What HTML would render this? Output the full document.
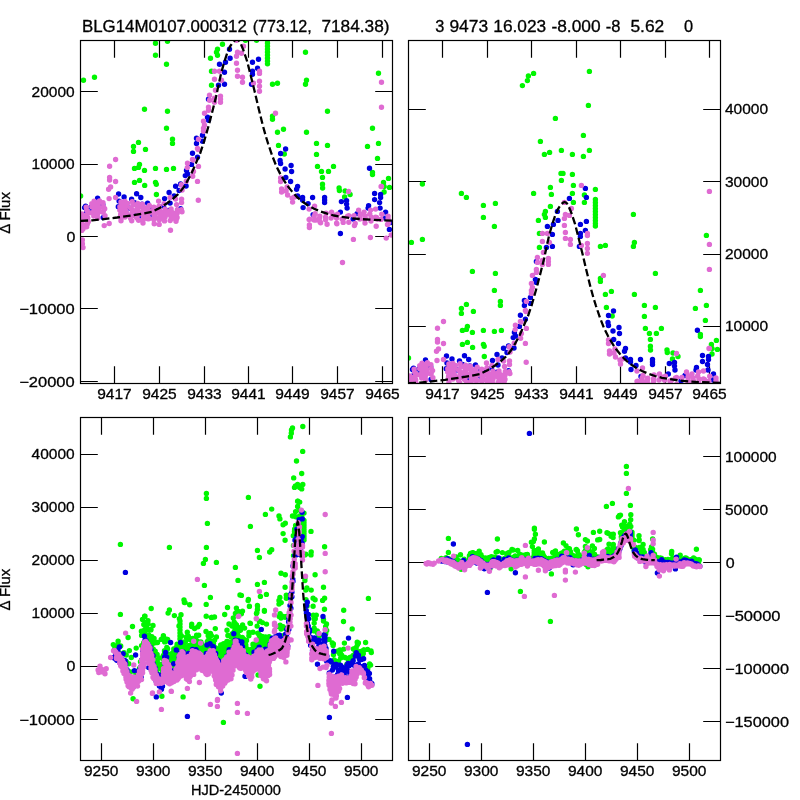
<!DOCTYPE html><html><head><meta charset="utf-8"><style>html,body{margin:0;padding:0;background:#fff}svg{display:block}</style></head><body><svg width="800" height="800" viewBox="0 0 800 800" font-family="Liberation Sans, sans-serif" fill="#000">
<rect width="800" height="800" fill="#fff"/>
<defs>
<clipPath id="c1"><rect x="80.5" y="40.5" width="312.0" height="343.0"/></clipPath>
<clipPath id="c2"><rect x="408.5" y="40.5" width="312.0" height="343.0"/></clipPath>
<clipPath id="c3"><rect x="80.5" y="417.5" width="312.0" height="343.0"/></clipPath>
<clipPath id="c4"><rect x="408.5" y="417.5" width="312.0" height="343.0"/></clipPath>
</defs>
<g stroke="#000" stroke-width="1.2" fill="none">
<path d="M114.5 40.5v17.3M114.5 383.5v-17.3"/>
<path d="M159.5 40.5v17.3M159.5 383.5v-17.3"/>
<path d="M204.5 40.5v17.3M204.5 383.5v-17.3"/>
<path d="M248.5 40.5v17.3M248.5 383.5v-17.3"/>
<path d="M292.5 40.5v17.3M292.5 383.5v-17.3"/>
<path d="M337.5 40.5v17.3M337.5 383.5v-17.3"/>
<path d="M382.5 40.5v17.3M382.5 383.5v-17.3"/>
<path d="M80.5 91.5h17.3M392.5 91.5h-17.3"/>
<path d="M80.5 164.5h17.3M392.5 164.5h-17.3"/>
<path d="M80.5 236.5h17.3M392.5 236.5h-17.3"/>
<path d="M80.5 308.5h17.3M392.5 308.5h-17.3"/>
<path d="M80.5 381.5h17.3M392.5 381.5h-17.3"/>
<path d="M442.5 40.5v17.3M442.5 383.5v-17.3"/>
<path d="M487.5 40.5v17.3M487.5 383.5v-17.3"/>
<path d="M531.5 40.5v17.3M531.5 383.5v-17.3"/>
<path d="M576.5 40.5v17.3M576.5 383.5v-17.3"/>
<path d="M620.5 40.5v17.3M620.5 383.5v-17.3"/>
<path d="M665.5 40.5v17.3M665.5 383.5v-17.3"/>
<path d="M709.5 40.5v17.3M709.5 383.5v-17.3"/>
<path d="M408.5 109.5h17.3M720.5 109.5h-17.3"/>
<path d="M408.5 181.5h17.3M720.5 181.5h-17.3"/>
<path d="M408.5 254.5h17.3M720.5 254.5h-17.3"/>
<path d="M408.5 326.5h17.3M720.5 326.5h-17.3"/>
<path d="M101.5 417.5v17.3M101.5 760.5v-17.3"/>
<path d="M153.5 417.5v17.3M153.5 760.5v-17.3"/>
<path d="M205.5 417.5v17.3M205.5 760.5v-17.3"/>
<path d="M257.5 417.5v17.3M257.5 760.5v-17.3"/>
<path d="M309.5 417.5v17.3M309.5 760.5v-17.3"/>
<path d="M361.5 417.5v17.3M361.5 760.5v-17.3"/>
<path d="M80.5 454.5h17.3M392.5 454.5h-17.3"/>
<path d="M80.5 507.5h17.3M392.5 507.5h-17.3"/>
<path d="M80.5 560.5h17.3M392.5 560.5h-17.3"/>
<path d="M80.5 613.5h17.3M392.5 613.5h-17.3"/>
<path d="M80.5 666.5h17.3M392.5 666.5h-17.3"/>
<path d="M80.5 719.5h17.3M392.5 719.5h-17.3"/>
<path d="M429.5 417.5v17.3M429.5 760.5v-17.3"/>
<path d="M481.5 417.5v17.3M481.5 760.5v-17.3"/>
<path d="M533.5 417.5v17.3M533.5 760.5v-17.3"/>
<path d="M585.5 417.5v17.3M585.5 760.5v-17.3"/>
<path d="M637.5 417.5v17.3M637.5 760.5v-17.3"/>
<path d="M689.5 417.5v17.3M689.5 760.5v-17.3"/>
<path d="M408.5 456.5h17.3M720.5 456.5h-17.3"/>
<path d="M408.5 509.5h17.3M720.5 509.5h-17.3"/>
<path d="M408.5 562.5h17.3M720.5 562.5h-17.3"/>
<path d="M408.5 615.5h17.3M720.5 615.5h-17.3"/>
<path d="M408.5 668.5h17.3M720.5 668.5h-17.3"/>
<path d="M408.5 721.5h17.3M720.5 721.5h-17.3"/>
</g>
<g clip-path="url(#c1)">
<path stroke="#00f600" stroke-width="5.4" stroke-linecap="round" fill="none" d="M155.5 43.2h0M167.5 41.2h0M155.5 55.2h0M166.5 64.2h0M83.5 80.2h0M94.5 77.2h0M222.5 44.2h0M217.5 49.2h0M216.5 52.2h0M217.5 55.2h0M210.5 58.2h0M211.5 71.2h0M211.5 85.2h0M144.5 109.3h0M167.5 111.3h0M166.5 128.3h0M172.5 139.3h0M172.5 143.4h0M138.5 142.4h0M133.5 146.4h0M133.5 151.4h0M145.5 149.4h0M139.5 164.4h0M134.5 168.4h0M138.5 167.4h0M144.5 170.4h0M155.5 168.4h0M166.5 169.4h0M173.5 168.4h0M134.5 182.4h0M139.5 180.4h0M144.7 185.4h0M155.5 182.4h0M156.3 184.2h0M156.4 194.5h0M80.6 196.0h0M245.5 40.2h0M256.5 40.2h0M267.5 37.3h0M267.5 40.3h0M267.5 43.3h0M267.5 46.3h0M267.5 49.3h0M267.5 52.3h0M267.5 55.3h0M267.5 58.3h0M267.5 61.3h0M267.5 63.8h0M305.5 52.2h0M272.5 84.2h0M277.5 83.2h0M306.5 80.2h0M305.5 84.2h0M327.5 111.3h0M272.5 116.3h0M272.5 119.3h0M277.5 132.3h0M283.5 129.3h0M306.5 132.3h0M278.5 145.4h0M284.3 154.0h0M316.5 143.4h0M327.5 145.4h0M316.5 154.4h0M317.5 166.4h0M333.5 166.4h0M321.5 171.4h0M328.5 171.4h0M322.5 177.4h0M322.5 184.3h0M322.6 188.0h0M339.1 188.0h0M339.4 190.5h0M345.1 191.0h0M350.1 194.5h0M344.6 197.0h0M372.5 128.3h0M367.5 146.4h0M378.5 73.2h0M378.5 143.4h0M377.5 158.4h0M372.5 172.4h0M372.5 174.6h0M388.5 178.4h0M383.5 182.4h0M389.5 187.4h0M384.1 186.5h0M384.1 192.0h0M78.2 207.2h0M77.6 215.1h0M76.8 214.8h0"/>
<path stroke="#0000de" stroke-width="5.4" stroke-linecap="round" fill="none" d="M229.5 49.2h0M230.1 58.2h0M225.5 62.2h0M219.5 64.2h0M224.5 72.2h0M224.5 84.2h0M218.5 85.2h0M208.5 99.3h0M207.5 117.3h0M208.5 120.3h0M202.5 135.3h0M196.5 138.3h0M202.5 141.3h0M196.5 143.4h0M192.5 153.2h0M197.5 157.2h0M191.5 164.4h0M186.5 170.4h0M185.3 175.6h0M187.6 174.0h0M180.6 184.0h0M175.6 186.2h0M186.1 186.0h0M169.1 192.5h0M164.6 198.6h0M174.1 196.0h0M179.1 190.5h0M170.1 203.1h0M258.5 59.2h0M252.5 62.2h0M257.5 68.2h0M252.5 71.2h0M252.5 74.2h0M251.5 84.2h0M285.6 149.0h0M280.6 153.5h0M280.1 160.5h0M280.6 163.5h0M291.1 165.5h0M285.1 169.0h0M291.6 171.5h0M285.8 177.5h0M290.6 181.5h0M297.6 186.5h0M296.6 189.2h0M302.6 197.5h0M302.6 200.1h0M297.6 196.0h0M312.6 197.5h0M308.1 203.6h0M303.1 207.6h0M324.6 197.5h0M324.6 200.1h0M324.6 202.6h0M341.4 201.6h0M340.4 212.1h0M313.1 214.6h0M369.5 168.2h0M346.6 200.6h0M346.6 204.1h0M347.1 208.1h0M374.6 193.5h0M374.6 199.6h0M380.6 194.5h0M380.6 197.5h0M379.6 202.6h0M380.1 208.1h0M368.6 205.6h0M368.1 208.1h0M385.6 212.1h0M357.1 213.6h0M385.1 218.1h0M353.1 219.1h0M97.6 198.1h0M118.6 194.0h0M124.1 197.0h0M131.6 199.1h0M136.6 193.7h0M140.8 197.5h0M147.6 203.1h0M84.6 207.6h0M86.6 210.1h0M91.1 207.1h0M134.6 202.6h0M103.1 217.6h0M156.4 212.1h0M85.1 214.1h0M91.6 212.1h0M119.1 201.1h0M125.1 204.1h0M142.1 204.1h0M152.6 209.1h0M158.1 210.1h0M163.6 206.1h0M340.4 233.5h0M390.6 222.5h0M389.4 229.4h0M85.6 206.2h0M92.3 211.1h0M96.5 215.3h0M102.8 204.6h0M118.3 206.8h0M123.6 215.2h0M129.6 208.1h0M135.4 212.9h0M141.7 216.5h0M147.5 216.3h0M152.5 214.4h0M157.4 210.4h0M163.5 212.6h0M169.0 210.4h0M173.9 215.1h0M180.6 208.8h0M78.1 223.6h0M76.8 224.4h0"/>
<path stroke="#df6bd2" stroke-width="5.4" stroke-linecap="round" fill="none" d="M381.5 82.2h0M381.5 107.3h0M381.5 186.4h0M115.6 159.5h0M109.6 166.2h0M109.6 177.5h0M109.6 180.0h0M115.6 181.5h0M110.6 187.0h0M108.6 189.2h0M109.1 198.6h0M115.6 197.5h0M214.5 71.2h0M219.5 71.2h0M214.5 79.2h0M221.5 80.2h0M215.5 90.3h0M209.5 95.3h0M220.5 96.3h0M220.5 99.3h0M220.5 102.3h0M209.5 100.3h0M214.5 98.3h0M214.5 102.3h0M208.5 107.3h0M208.5 110.3h0M204.5 113.3h0M203.5 121.3h0M204.5 125.3h0M203.5 128.3h0M203.5 131.3h0M198.5 139.3h0M197.5 148.4h0M192.5 159.4h0M187.5 163.2h0M187.3 167.6h0M198.5 166.4h0M193.5 171.4h0M192.7 176.2h0M197.5 181.4h0M186.3 181.2h0M181.3 184.8h0M198.1 149.5h0M193.1 160.0h0M182.1 190.0h0M170.1 197.5h0M158.6 201.1h0M175.6 199.1h0M181.6 199.1h0M181.6 202.6h0M176.6 204.6h0M198.3 200.3h0M164.1 203.6h0M159.1 206.1h0M236.5 40.2h0M243.5 46.2h0M237.5 52.2h0M241.5 53.2h0M236.5 56.2h0M236.5 63.2h0M237.5 70.2h0M237.5 76.2h0M242.5 77.2h0M242.5 82.2h0M259.5 71.2h0M259.5 73.4h0M259.5 81.2h0M253.5 83.2h0M259.5 86.2h0M259.5 91.3h0M275.5 113.3h0M280.6 178.0h0M280.6 181.5h0M281.6 189.0h0M281.6 192.0h0M287.1 187.0h0M286.1 191.0h0M287.6 195.0h0M292.1 198.1h0M292.6 202.1h0M294.6 197.0h0M314.6 206.1h0M309.1 209.1h0M315.1 213.6h0M326.1 213.1h0M331.6 212.1h0M309.1 219.6h0M319.6 218.1h0M325.6 217.1h0M331.1 218.1h0M336.6 218.1h0M314.1 220.1h0M348.6 191.5h0M381.1 186.5h0M358.6 210.1h0M364.1 212.1h0M370.6 210.1h0M375.6 209.1h0M360.1 215.1h0M365.1 216.1h0M371.1 217.1h0M375.6 217.1h0M388.1 216.1h0M388.1 218.5h0M347.6 216.1h0M342.1 219.1h0M82.4 240.0h0M82.4 243.7h0M83.0 247.5h0M104.2 225.6h0M109.2 223.5h0M121.0 220.8h0M131.7 220.8h0M138.6 220.3h0M143.0 223.0h0M154.2 223.7h0M159.2 224.4h0M170.5 230.3h0M176.0 221.3h0M309.4 227.5h0M354.4 225.6h0M365.0 223.1h0M376.2 226.2h0M353.4 239.4h0M370.4 237.5h0M386.2 238.1h0M342.5 262.5h0M391.2 235.0h0M336.9 223.8h0M320.6 222.7h0M81.7 230.4h0M82.9 229.0h0M81.8 227.2h0M81.0 225.7h0M82.1 223.7h0M80.7 222.9h0M80.7 220.6h0M82.3 220.2h0M83.1 217.2h0M82.2 216.2h0M80.9 215.6h0M81.9 213.9h0M86.7 226.8h0M87.3 224.0h0M88.3 221.8h0M87.7 219.8h0M87.8 217.9h0M86.8 214.8h0M88.6 213.1h0M87.9 212.1h0M86.7 210.1h0M86.2 207.1h0M93.8 216.1h0M94.1 213.5h0M91.6 212.8h0M94.0 210.6h0M94.2 209.0h0M91.8 206.8h0M93.6 205.7h0M91.8 203.8h0M94.1 201.3h0M97.8 218.0h0M97.3 214.8h0M97.6 213.4h0M98.3 212.2h0M99.1 210.4h0M98.9 208.6h0M98.3 206.5h0M97.9 203.2h0M99.3 202.6h0M99.5 200.9h0M105.0 215.8h0M103.0 212.2h0M103.3 211.5h0M104.7 208.7h0M103.5 206.7h0M103.0 202.7h0M121.0 218.2h0M120.6 215.4h0M120.7 214.3h0M121.7 213.2h0M119.8 210.1h0M121.5 209.4h0M119.9 206.8h0M121.9 205.9h0M121.9 202.9h0M121.0 201.9h0M125.1 217.1h0M125.6 215.7h0M125.6 213.6h0M126.5 212.7h0M125.4 210.1h0M125.2 209.1h0M126.4 206.1h0M126.6 205.2h0M127.4 203.5h0M125.0 201.5h0M130.7 218.6h0M131.5 216.1h0M130.9 214.7h0M132.9 211.7h0M132.2 210.5h0M132.1 209.6h0M130.6 208.1h0M132.9 205.0h0M133.0 204.4h0M132.2 201.8h0M136.9 217.9h0M136.3 217.0h0M138.0 214.6h0M138.0 213.2h0M138.2 211.1h0M137.0 209.8h0M138.4 207.7h0M137.2 206.1h0M138.3 204.8h0M137.7 203.4h0M143.2 219.5h0M143.3 216.1h0M143.9 214.8h0M142.7 213.1h0M143.2 211.8h0M143.8 210.7h0M143.6 209.0h0M143.2 206.4h0M142.3 204.3h0M148.8 218.8h0M147.9 218.7h0M148.0 215.9h0M147.7 215.0h0M149.6 212.5h0M148.4 210.5h0M148.1 209.1h0M147.7 207.9h0M149.3 205.4h0M153.8 219.4h0M153.6 218.4h0M154.1 215.5h0M155.0 214.0h0M155.3 213.0h0M153.2 211.0h0M153.5 209.7h0M153.9 207.3h0M159.2 219.8h0M160.9 218.9h0M158.5 218.0h0M160.6 216.4h0M160.2 214.1h0M159.1 212.2h0M158.4 211.7h0M159.5 210.3h0M164.5 220.9h0M164.0 218.6h0M165.1 217.1h0M165.6 215.3h0M166.4 213.9h0M164.4 212.7h0M164.4 211.9h0M165.1 209.3h0M170.2 220.6h0M171.3 218.8h0M171.1 216.9h0M170.5 215.3h0M171.8 214.8h0M171.9 212.3h0M169.8 211.2h0M171.1 209.0h0M176.5 219.0h0M177.1 217.4h0M176.2 216.3h0M175.6 214.6h0M177.1 213.2h0M176.9 212.3h0M177.4 209.6h0M182.0 211.7h0M181.4 209.7h0M309.4 225.0h0M309.6 219.2h0M316.0 220.0h0M314.2 216.1h0M319.8 216.2h0M320.1 221.9h0M327.1 224.3h0M325.6 219.7h0M332.5 215.7h0M332.5 214.4h0M337.5 214.3h0M336.6 223.3h0M343.2 222.4h0M343.7 218.2h0M348.7 215.6h0M348.8 222.2h0M354.0 215.6h0M355.2 223.5h0M360.6 214.1h0M359.9 219.0h0M364.6 219.4h0M365.4 218.6h0M369.8 214.1h0M371.0 221.1h0M377.2 219.1h0M376.5 217.5h0M381.0 219.4h0M381.8 214.2h0M388.6 222.7h0M387.5 224.5h0M76.9 220.3h0M77.5 222.8h0M76.9 229.1h0M77.0 234.4h0M77.3 237.3h0M77.1 240.2h0M76.7 245.4h0"/>
<polyline points="80.6,220.9 92.1,220.3 102.1,219.3 117.1,217.5 132.1,215.3 142.1,213.7 152.1,211.7 160.1,207.7 167.1,203.2 173.1,198.7 178.1,194.1 181.1,190.6 184.1,186.6 188.1,179.6 192.1,172.1 195.1,165.1 198.1,158.1 200.1,153.6 204.1,141.5 208.1,127.5 212.1,112.5 216.1,96.5 219.1,82.4 221.1,73.4 224.1,62.4 227.1,53.4 230.1,46.4 233.1,41.9 235.1,40.2 236.7,39.4 238.6,40.3 240.2,42.4 243.3,49.9 247.1,61.2 250.9,76.2 254.6,91.2 258.4,107.5 262.7,125.0 265.6,135.5 268.1,143.6 272.1,155.4 276.1,165.6 280.1,173.6 284.1,180.6 288.1,186.6 292.1,191.6 297.1,197.1 302.1,201.5 308.1,205.5 314.1,208.7 320.1,211.3 327.1,213.7 334.1,215.5 342.1,216.9 352.1,218.3 362.1,219.2 372.1,219.8 382.1,220.2 392.6,220.6" fill="none" stroke="#000" stroke-width="2.3" stroke-dasharray="7.5 3.2"/>
</g>
<g clip-path="url(#c2)">
<path stroke="#00f600" stroke-width="5.4" stroke-linecap="round" fill="none" d="M422.4 184.0h0M461.4 193.4h0M466.4 197.4h0M522.4 85.6h0M527.4 80.6h0M528.4 76.0h0M533.6 73.4h0M555.4 118.4h0M540.4 141.4h0M544.4 154.4h0M549.6 152.4h0M561.4 150.4h0M533.6 193.4h0M550.4 187.4h0M551.4 194.4h0M589.4 71.4h0M588.4 105.4h0M583.4 135.4h0M572.4 154.4h0M583.4 156.4h0M589.4 150.4h0M561.0 173.4h0M563.0 173.4h0M572.4 174.4h0M561.4 180.4h0M573.4 185.4h0M572.4 193.4h0M595.4 189.4h0M584.4 195.0h0M483.4 205.4h0M495.4 203.4h0M483.4 217.4h0M494.4 226.4h0M411.4 242.4h0M422.4 239.4h0M550.4 206.4h0M545.4 211.4h0M544.4 214.4h0M545.4 217.4h0M538.4 220.4h0M539.4 233.4h0M539.4 247.4h0M472.4 271.4h0M495.4 273.4h0M494.4 290.4h0M500.4 301.4h0M500.4 305.4h0M466.4 304.4h0M461.4 308.4h0M461.4 313.4h0M473.4 311.4h0M467.4 326.4h0M462.4 330.4h0M466.4 329.4h0M472.4 332.4h0M483.4 330.4h0M494.4 331.4h0M501.4 330.4h0M462.4 344.4h0M467.4 342.4h0M472.6 347.4h0M483.4 344.4h0M484.2 346.2h0M484.3 356.5h0M408.5 358.0h0M573.4 202.4h0M584.4 202.4h0M595.4 199.5h0M595.4 202.5h0M595.4 205.5h0M595.4 208.5h0M595.4 211.5h0M595.4 214.5h0M595.4 217.5h0M595.4 220.5h0M595.4 223.5h0M595.4 226.0h0M633.4 214.4h0M600.4 246.4h0M605.4 245.4h0M634.4 242.4h0M633.4 246.4h0M655.4 273.4h0M600.4 278.4h0M600.4 281.4h0M605.4 294.4h0M611.4 291.4h0M634.4 294.4h0M606.4 307.4h0M612.2 316.0h0M644.4 305.4h0M655.4 307.4h0M644.4 316.4h0M645.4 328.4h0M661.4 328.4h0M649.4 333.4h0M656.4 333.4h0M650.4 339.4h0M650.4 346.3h0M650.5 350.0h0M667.0 350.0h0M667.3 352.5h0M673.0 353.0h0M678.0 356.5h0M672.5 359.0h0M700.4 290.4h0M695.4 308.4h0M706.4 235.4h0M706.4 305.4h0M705.4 320.4h0M700.4 334.4h0M700.4 336.6h0M716.4 340.4h0M711.4 344.4h0M717.4 349.4h0M712.0 348.5h0M712.0 354.0h0M406.1 369.1h0M405.5 377.0h0M404.7 376.7h0"/>
<path stroke="#0000de" stroke-width="5.4" stroke-linecap="round" fill="none" d="M585.4 188.4h0M586.4 197.4h0M569.4 198.4h0M557.4 211.4h0M558.0 220.4h0M553.4 224.4h0M547.4 226.4h0M552.4 234.4h0M552.4 246.4h0M546.4 247.4h0M536.4 261.4h0M535.4 279.4h0M536.4 282.4h0M530.4 297.4h0M524.4 300.4h0M530.4 303.4h0M524.4 305.4h0M520.4 315.2h0M525.4 319.2h0M519.4 326.4h0M514.4 332.4h0M513.2 337.6h0M515.5 336.0h0M508.5 346.0h0M503.5 348.2h0M514.0 348.0h0M497.0 354.5h0M492.5 360.5h0M502.0 358.0h0M507.0 352.5h0M498.0 365.0h0M586.4 221.4h0M580.4 224.4h0M585.4 230.4h0M580.4 233.4h0M580.4 236.4h0M579.4 246.4h0M613.5 311.0h0M608.5 315.5h0M608.0 322.5h0M608.5 325.5h0M619.0 327.5h0M613.0 331.0h0M619.5 333.5h0M613.7 339.5h0M618.5 343.5h0M625.5 348.5h0M624.5 351.2h0M630.5 359.5h0M630.5 362.0h0M625.5 358.0h0M640.5 359.5h0M636.0 365.5h0M631.0 369.5h0M652.5 359.5h0M652.5 362.0h0M652.5 364.5h0M669.3 363.5h0M668.3 374.0h0M641.0 376.5h0M697.4 330.2h0M674.5 362.5h0M674.5 366.0h0M675.0 370.0h0M702.5 355.5h0M702.5 361.5h0M708.5 356.5h0M708.5 359.5h0M707.5 364.5h0M708.0 370.0h0M696.5 367.5h0M696.0 370.0h0M713.5 374.0h0M685.0 375.5h0M713.0 380.0h0M681.0 381.0h0M425.5 360.0h0M446.5 356.0h0M452.0 359.0h0M459.5 361.0h0M464.5 355.7h0M468.7 359.5h0M475.5 365.0h0M412.5 369.5h0M414.5 372.0h0M419.0 369.0h0M462.5 364.5h0M431.0 379.5h0M484.3 374.0h0M413.0 376.0h0M419.5 374.0h0M447.0 363.0h0M453.0 366.0h0M470.0 366.0h0M480.5 371.0h0M486.0 372.0h0M491.5 368.0h0M718.5 384.4h0M413.5 368.2h0M420.2 373.1h0M424.4 377.2h0M430.7 366.6h0M446.2 368.7h0M451.5 377.2h0M457.5 370.0h0M463.3 374.8h0M469.6 378.4h0M475.4 378.2h0M480.4 376.3h0M485.3 372.3h0M491.4 374.5h0M496.9 372.3h0M501.8 377.0h0M508.5 370.7h0M406.0 385.5h0M404.7 386.3h0"/>
<path stroke="#df6bd2" stroke-width="5.4" stroke-linecap="round" fill="none" d="M581.4 185.4h0M709.4 191.4h0M709.4 244.4h0M709.4 269.4h0M709.4 348.4h0M443.5 321.5h0M437.5 328.2h0M437.5 339.5h0M437.5 342.0h0M443.5 343.5h0M438.5 349.0h0M436.5 351.2h0M437.0 360.5h0M443.5 359.5h0M542.4 233.4h0M547.4 233.4h0M542.4 241.4h0M549.4 242.4h0M543.4 252.4h0M537.4 257.4h0M548.4 258.4h0M548.4 261.4h0M548.4 264.4h0M537.4 262.4h0M542.4 260.4h0M542.4 264.4h0M536.4 269.4h0M536.4 272.4h0M532.4 275.4h0M531.4 283.4h0M532.4 287.4h0M531.4 290.4h0M531.4 293.4h0M526.4 301.4h0M525.4 310.4h0M520.4 321.4h0M515.4 325.2h0M515.2 329.6h0M526.4 328.4h0M521.4 333.4h0M520.6 338.2h0M525.4 343.4h0M514.2 343.2h0M509.2 346.8h0M526.0 311.5h0M521.0 322.0h0M510.0 352.0h0M498.0 359.5h0M486.5 363.0h0M503.5 361.0h0M509.5 361.0h0M509.5 364.5h0M504.5 366.5h0M526.2 362.2h0M492.0 365.5h0M487.0 368.0h0M564.4 202.4h0M571.4 208.4h0M565.4 214.4h0M569.4 215.4h0M564.4 218.4h0M564.4 225.4h0M565.4 232.4h0M565.4 238.4h0M570.4 239.4h0M570.4 244.4h0M587.4 233.4h0M587.4 235.6h0M587.4 243.4h0M581.4 245.4h0M587.4 248.4h0M587.4 253.4h0M603.4 275.4h0M608.5 340.0h0M608.5 343.5h0M609.5 351.0h0M609.5 354.0h0M615.0 349.0h0M614.0 353.0h0M615.5 357.0h0M620.0 360.0h0M620.5 364.0h0M622.5 359.0h0M642.5 368.0h0M637.0 371.0h0M643.0 375.5h0M654.0 375.0h0M659.5 374.0h0M637.0 381.5h0M647.5 380.0h0M653.5 379.0h0M659.0 380.0h0M664.5 380.0h0M642.0 382.0h0M676.5 353.5h0M709.0 348.5h0M686.5 372.0h0M692.0 374.0h0M698.5 372.0h0M703.5 371.0h0M688.0 377.0h0M693.0 378.0h0M699.0 379.0h0M703.5 379.0h0M716.0 378.0h0M716.0 380.4h0M675.5 378.0h0M670.0 381.0h0M437.1 385.4h0M448.9 382.7h0M459.6 382.7h0M466.5 382.2h0M470.9 384.9h0M482.1 385.6h0M487.1 386.3h0M503.9 383.2h0M692.9 385.0h0M664.8 385.7h0M648.5 384.6h0M410.0 385.6h0M408.6 384.9h0M408.6 382.5h0M410.2 382.1h0M411.0 379.1h0M410.1 378.1h0M408.8 377.5h0M409.8 375.9h0M415.2 385.9h0M416.2 383.7h0M415.6 381.7h0M415.7 379.8h0M414.7 376.7h0M416.5 375.0h0M415.8 374.0h0M414.6 372.1h0M414.1 369.1h0M421.7 378.0h0M422.0 375.4h0M419.5 374.8h0M421.9 372.6h0M422.1 370.9h0M419.7 368.7h0M421.5 367.6h0M419.7 365.7h0M422.0 363.2h0M425.7 379.9h0M425.2 376.7h0M425.5 375.3h0M426.2 374.1h0M427.0 372.4h0M426.8 370.5h0M426.2 368.5h0M425.8 365.2h0M427.2 364.5h0M427.4 362.8h0M432.9 377.7h0M430.9 374.1h0M431.2 373.4h0M432.6 370.6h0M431.4 368.6h0M430.9 364.6h0M448.9 380.2h0M448.5 377.3h0M448.6 376.2h0M449.6 375.1h0M447.7 372.0h0M449.4 371.4h0M447.8 368.7h0M449.8 367.9h0M449.8 364.8h0M448.9 363.9h0M453.0 379.0h0M453.5 377.6h0M453.5 375.5h0M454.4 374.7h0M453.3 372.0h0M453.1 371.0h0M454.3 368.0h0M454.5 367.2h0M455.3 365.5h0M452.9 363.5h0M458.6 380.5h0M459.4 378.0h0M458.8 376.6h0M460.8 373.7h0M460.1 372.4h0M460.0 371.6h0M458.5 370.0h0M460.8 367.0h0M460.9 366.4h0M460.1 363.7h0M464.8 379.8h0M464.2 378.9h0M465.9 376.5h0M465.9 375.1h0M466.1 373.1h0M464.9 371.7h0M466.3 369.7h0M465.1 368.1h0M466.2 366.7h0M465.6 365.3h0M471.1 381.4h0M471.2 378.0h0M471.8 376.8h0M470.6 375.0h0M471.1 373.7h0M471.7 372.6h0M471.5 370.9h0M471.1 368.4h0M470.2 366.2h0M476.7 380.7h0M475.8 380.6h0M475.9 377.8h0M475.6 377.0h0M477.5 374.4h0M476.3 372.4h0M476.0 371.1h0M475.6 369.8h0M477.2 367.3h0M481.7 381.3h0M481.5 380.3h0M482.0 377.4h0M482.9 375.9h0M483.2 375.0h0M481.1 373.0h0M481.4 371.7h0M481.8 369.2h0M487.1 381.7h0M488.8 380.8h0M486.4 379.9h0M488.5 378.4h0M488.1 376.0h0M487.0 374.1h0M486.3 373.6h0M487.4 372.3h0M492.4 382.8h0M491.9 380.5h0M493.0 379.0h0M493.5 377.2h0M494.3 375.8h0M492.3 374.6h0M492.3 373.8h0M493.0 371.2h0M498.1 382.5h0M499.2 380.7h0M499.0 378.8h0M498.4 377.2h0M499.7 376.8h0M499.8 374.3h0M497.7 373.1h0M499.0 370.9h0M504.4 380.9h0M505.0 379.3h0M504.1 378.2h0M503.5 376.5h0M505.0 375.1h0M504.8 374.2h0M505.3 371.5h0M509.9 373.6h0M509.3 371.7h0M637.3 386.9h0M637.5 381.2h0M643.9 381.9h0M642.1 378.0h0M647.7 378.1h0M648.0 383.8h0M655.0 386.2h0M653.5 381.6h0M660.4 377.6h0M660.4 376.3h0M665.4 376.2h0M664.5 385.2h0M671.1 384.4h0M671.6 380.1h0M676.6 377.5h0M676.7 384.1h0M681.9 377.5h0M683.1 385.4h0M688.5 376.0h0M687.8 380.9h0M692.5 381.3h0M693.3 380.5h0M697.7 376.0h0M698.9 383.0h0M705.1 381.0h0M704.4 379.4h0M708.9 381.3h0M709.7 376.2h0M716.5 384.6h0M715.4 386.4h0M404.8 382.2h0M405.4 384.7h0"/>
<polyline points="408.5,383.2 420.0,382.6 430.0,381.6 445.0,379.8 460.0,377.6 470.0,376.0 480.0,374.0 488.0,370.0 495.0,365.5 501.0,361.0 506.0,356.5 509.0,353.0 512.0,349.0 516.0,342.0 520.0,334.5 523.0,327.5 526.0,320.5 528.0,316.0 532.0,304.0 536.0,290.0 540.0,275.0 544.0,259.0 547.0,245.0 549.0,236.0 552.0,225.0 555.0,216.0 558.0,209.0 561.0,204.5 563.0,202.8 564.6,202.0 566.5,202.9 568.1,205.0 571.2,212.5 575.0,223.8 578.8,238.8 582.5,253.8 586.3,270.0 590.6,287.5 593.5,298.0 596.0,306.0 600.0,317.8 604.0,328.0 608.0,336.0 612.0,343.0 616.0,349.0 620.0,354.0 625.0,359.5 630.0,363.8 636.0,367.8 642.0,371.0 648.0,373.6 655.0,376.0 662.0,377.8 670.0,379.2 680.0,380.6 690.0,381.5 700.0,382.1 710.0,382.5 720.5,382.9" fill="none" stroke="#000" stroke-width="2.3" stroke-dasharray="7.5 3.2"/>
</g>
<g clip-path="url(#c3)">
<path stroke="#00f600" stroke-width="5.4" stroke-linecap="round" fill="none" d="M271.7 509.1h0M279.0 516.0h0M279.9 518.9h0M290.4 436.9h0M291.3 433.2h0M291.5 429.9h0M292.5 428.0h0M296.5 461.0h0M293.7 477.9h0M294.5 487.4h0M295.4 485.9h0M297.6 484.5h0M292.5 516.0h0M295.6 511.6h0M295.8 516.7h0M302.8 426.5h0M302.7 451.4h0M301.7 473.5h0M299.7 487.4h0M301.7 488.9h0M302.8 484.5h0M297.6 501.3h0M297.9 501.3h0M299.7 502.1h0M297.6 506.5h0M299.9 510.1h0M299.7 516.0h0M304.0 513.1h0M301.9 517.2h0M283.1 524.8h0M285.3 523.3h0M283.1 533.6h0M285.1 540.2h0M269.7 552.0h0M271.7 549.8h0M295.6 525.5h0M294.6 529.2h0M294.5 531.4h0M294.6 533.6h0M293.3 535.8h0M293.5 545.4h0M293.5 555.6h0M281.0 573.2h0M285.3 574.7h0M285.1 587.2h0M286.3 595.2h0M286.3 598.2h0M279.9 597.5h0M279.0 600.4h0M279.0 604.1h0M281.2 602.6h0M280.1 613.6h0M279.2 616.5h0M279.9 615.8h0M281.0 618.0h0M283.1 616.5h0M285.1 617.3h0M286.5 616.5h0M279.2 626.8h0M280.1 625.3h0M281.1 629.0h0M283.1 626.8h0M283.2 628.1h0M283.3 635.7h0M269.1 636.8h0M299.9 522.6h0M301.9 522.6h0M304.0 520.5h0M304.0 522.7h0M304.0 524.9h0M304.0 527.1h0M304.0 529.3h0M304.0 531.5h0M304.0 533.7h0M304.0 535.9h0M304.0 538.1h0M304.0 539.9h0M311.0 531.4h0M304.9 554.9h0M305.8 554.2h0M311.2 552.0h0M311.0 554.9h0M315.1 574.7h0M304.9 578.4h0M304.9 580.6h0M305.8 590.1h0M306.9 587.9h0M311.2 590.1h0M306.0 599.7h0M307.1 606.0h0M313.1 598.2h0M315.1 599.7h0M313.1 606.3h0M313.3 615.1h0M316.3 615.1h0M314.0 618.7h0M315.3 618.7h0M314.2 623.1h0M314.2 628.2h0M314.2 630.9h0M317.3 630.9h0M317.4 632.7h0M318.4 633.1h0M319.3 635.7h0M318.3 637.5h0M323.5 587.2h0M322.6 600.4h0M324.6 546.8h0M324.6 598.2h0M324.5 609.2h0M323.5 619.5h0M323.5 621.1h0M326.5 623.9h0M325.6 626.8h0M326.7 630.5h0M325.7 629.8h0M325.7 633.8h0M120.4 614.4h0M132.5 626.5h0M118.1 641.2h0M128.1 637.5h0M129.4 650.6h0M136.2 648.1h0M131.3 657.5h0M126.2 655.0h0M128.7 663.8h0M151.2 608.5h0M145.0 616.2h0M142.5 619.4h0M145.6 622.5h0M169.4 610.0h0M168.1 613.1h0M174.4 615.6h0M179.4 618.8h0M180.0 621.0h0M180.0 624.0h0M180.0 627.0h0M180.0 630.0h0M180.0 633.0h0M180.0 636.0h0M180.0 639.0h0M184.4 602.5h0M161.2 639.4h0M157.5 642.5h0M151.2 643.8h0M151.2 647.5h0M133.1 698.8h0M161.9 696.2h0M183.1 696.9h0M223.4 722.4h0M206.2 604.4h0M227.5 607.5h0M249.4 606.2h0M257.5 606.2h0M256.9 612.5h0M264.4 611.2h0M236.9 611.9h0M248.1 600.6h0M199.4 624.4h0M206.2 616.2h0M211.9 617.5h0M260.0 621.2h0M250.0 623.1h0M258.1 675.0h0M260.0 686.2h0M185.0 602.5h0M120.4 544.4h0M169.4 547.4h0M206.4 493.4h0M206.4 498.4h0M207.4 523.4h0M206.4 547.4h0M205.4 559.4h0M203.4 563.4h0M216.4 562.4h0M235.4 567.4h0M238.0 580.4h0M204.4 585.4h0M210.4 597.4h0M240.0 595.0h0M184.0 600.0h0M248.4 497.4h0M250.4 526.4h0M265.4 514.4h0M257.4 550.4h0M259.4 557.4h0M241.4 595.4h0M248.4 599.4h0M249.4 606.4h0M257.4 584.4h0M264.4 582.4h0M260.4 596.4h0M266.4 594.4h0M257.4 605.4h0M257.4 609.4h0M256.4 613.4h0M264.4 610.4h0M238.4 611.4h0M235.4 613.4h0M259.4 621.4h0M250.4 623.4h0M343.7 610.2h0M343.5 621.5h0M344.4 643.1h0M333.1 645.6h0M340.0 650.0h0M340.6 653.8h0M357.5 644.4h0M365.6 642.5h0M355.0 648.8h0M356.2 651.9h0M363.8 650.0h0M367.5 649.4h0M371.3 652.5h0M362.5 655.6h0M345.0 657.5h0M343.1 669.4h0M368.4 598.4h0M333.4 644.0h0M340.0 651.0h0M341.0 655.0h0M353.4 649.0h0M355.4 652.0h0M364.0 650.0h0M371.0 651.0h0M113.3 644.6h0M114.7 647.9h0M115.4 649.0h0M116.7 645.8h0M118.8 652.9h0M120.7 646.0h0M124.0 652.7h0M124.9 661.4h0M126.2 661.4h0M130.4 671.9h0M133.2 677.2h0M135.5 672.1h0M136.2 673.5h0M139.5 668.4h0M140.5 661.8h0M141.6 635.4h0M141.4 631.3h0M141.6 645.6h0M142.6 646.7h0M142.8 647.7h0M142.5 645.9h0M143.8 624.5h0M143.7 642.6h0M143.6 635.3h0M144.6 616.1h0M144.9 632.1h0M144.7 629.8h0M145.7 638.2h0M145.9 634.4h0M145.7 638.0h0M146.8 635.4h0M146.8 627.4h0M146.8 636.9h0M148.0 623.8h0M147.9 640.5h0M148.0 620.6h0M149.0 642.1h0M149.0 629.6h0M148.7 635.0h0M149.8 637.5h0M150.1 640.8h0M150.0 642.6h0M151.1 648.3h0M151.0 629.4h0M151.0 648.3h0M151.0 648.3h0M150.8 629.9h0M151.9 636.6h0M152.0 649.9h0M151.9 650.9h0M151.8 651.2h0M151.8 644.7h0M153.2 655.5h0M153.3 642.9h0M152.9 649.8h0M153.3 649.1h0M153.0 625.5h0M154.1 638.4h0M154.1 663.1h0M154.1 655.5h0M153.9 641.2h0M154.1 664.4h0M155.0 642.7h0M155.0 664.7h0M155.2 665.6h0M155.2 651.1h0M155.3 659.8h0M156.1 669.5h0M156.1 663.3h0M156.1 672.9h0M156.3 671.8h0M156.2 672.0h0M157.0 669.3h0M157.3 668.0h0M157.1 667.6h0M157.1 654.4h0M157.2 659.9h0M158.1 663.2h0M158.5 676.7h0M158.1 664.8h0M158.3 674.7h0M158.3 677.1h0M159.1 666.6h0M159.5 676.4h0M159.4 676.4h0M159.4 658.0h0M159.4 675.7h0M160.2 675.2h0M160.5 676.3h0M160.4 668.5h0M160.2 677.9h0M160.3 678.4h0M161.6 678.8h0M161.4 677.3h0M161.4 664.6h0M161.5 664.6h0M161.2 676.0h0M162.3 671.6h0M162.3 669.9h0M162.3 638.6h0M162.5 677.0h0M162.5 665.0h0M163.6 667.1h0M163.4 635.6h0M163.4 655.5h0M163.4 656.1h0M163.6 659.4h0M164.5 650.8h0M164.5 657.2h0M164.5 653.7h0M164.7 641.9h0M164.6 653.3h0M165.5 658.9h0M165.4 650.5h0M165.6 639.0h0M165.5 657.4h0M165.7 641.4h0M166.4 658.2h0M166.4 658.2h0M166.8 659.2h0M166.8 647.5h0M166.4 658.7h0M167.6 648.7h0M167.6 654.0h0M167.8 660.8h0M167.6 639.5h0M167.5 657.5h0M168.6 662.0h0M168.7 660.4h0M168.8 659.6h0M168.7 656.9h0M168.6 656.2h0M169.9 658.3h0M169.9 654.1h0M169.6 664.8h0M169.9 659.7h0M169.9 663.0h0M170.6 665.4h0M170.6 658.2h0M170.8 664.8h0M170.7 654.3h0M170.6 666.6h0M172.0 670.7h0M171.9 662.3h0M171.7 661.2h0M171.9 660.5h0M171.9 655.6h0M173.0 652.4h0M172.8 664.0h0M172.9 669.6h0M172.7 660.3h0M172.7 655.1h0M174.0 660.5h0M173.9 673.3h0M173.8 648.9h0M174.0 669.7h0M173.9 671.5h0M174.8 672.8h0M174.7 669.7h0M175.0 670.2h0M174.8 672.9h0M174.8 658.4h0M176.1 660.5h0M176.0 658.7h0M176.0 664.9h0M175.8 666.2h0M176.0 662.2h0M177.1 644.3h0M177.2 664.6h0M176.9 646.0h0M177.1 655.5h0M177.1 658.4h0M177.9 660.5h0M178.2 658.0h0M177.9 657.7h0M177.9 654.1h0M177.9 655.7h0M179.0 625.9h0M179.1 653.8h0M179.3 650.4h0M179.2 650.1h0M178.9 652.5h0M179.9 649.8h0M180.2 637.7h0M180.3 651.7h0M180.0 646.1h0M180.0 651.6h0M181.2 653.7h0M181.1 651.9h0M181.3 635.8h0M181.0 614.8h0M181.3 653.5h0M182.2 644.6h0M182.4 643.2h0M182.4 646.9h0M182.3 644.3h0M182.2 642.6h0M183.2 644.3h0M183.4 648.6h0M183.3 643.6h0M183.1 643.7h0M183.3 649.8h0M184.2 646.1h0M184.2 654.1h0M184.2 647.9h0M184.4 655.0h0M184.2 649.3h0M185.4 652.5h0M185.5 647.7h0M185.5 654.9h0M185.4 641.4h0M185.2 650.2h0M186.4 651.6h0M186.2 637.1h0M186.2 656.0h0M186.3 657.5h0M186.4 636.9h0M187.6 653.1h0M187.3 632.2h0M187.4 648.6h0M187.4 649.7h0M187.4 655.7h0M188.6 645.6h0M188.3 636.3h0M188.6 638.0h0M188.3 651.1h0M188.6 646.0h0M189.7 604.8h0M189.6 645.6h0M189.3 652.3h0M189.3 655.8h0M189.3 648.8h0M190.4 648.7h0M190.5 650.1h0M190.7 654.3h0M190.5 639.9h0M190.4 649.4h0M191.5 645.2h0M191.4 648.7h0M191.7 624.2h0M191.7 649.6h0M191.6 626.6h0M192.4 640.3h0M192.6 647.6h0M192.7 644.3h0M192.6 638.5h0M192.6 644.0h0M193.8 646.5h0M193.8 647.7h0M193.7 649.5h0M193.8 649.9h0M193.7 644.3h0M194.8 643.6h0M194.6 628.5h0M194.8 640.4h0M194.8 646.0h0M194.6 641.7h0M195.8 638.8h0M195.8 639.7h0M195.8 647.3h0M195.7 637.8h0M195.7 640.2h0M196.9 642.4h0M196.7 647.1h0M196.6 635.2h0M196.8 645.4h0M196.8 647.6h0M197.8 643.4h0M197.9 650.3h0M197.8 641.5h0M197.8 651.5h0M197.9 626.8h0M198.7 649.0h0M198.8 646.1h0M198.7 635.3h0M198.7 650.0h0M198.6 651.1h0M199.9 646.1h0M199.8 651.8h0M200.1 649.0h0M200.0 645.6h0M199.9 648.6h0M200.9 647.3h0M200.9 642.0h0M201.1 644.5h0M200.8 643.3h0M201.0 652.9h0M201.8 655.8h0M202.1 649.5h0M202.0 644.5h0M202.0 653.5h0M201.9 654.5h0M203.1 654.7h0M202.9 651.8h0M203.1 654.4h0M202.9 653.8h0M203.1 652.0h0M204.2 652.4h0M204.2 657.2h0M203.9 655.5h0M204.0 658.0h0M203.8 647.0h0M205.0 650.9h0M205.2 655.9h0M204.9 653.1h0M205.0 648.2h0M204.9 646.7h0M206.0 631.5h0M206.0 654.7h0M206.2 656.9h0M206.0 656.6h0M206.3 647.0h0M207.2 653.2h0M207.3 652.0h0M207.1 651.3h0M207.3 641.8h0M207.2 648.6h0M208.0 646.7h0M208.4 649.8h0M208.2 640.6h0M208.1 640.4h0M208.2 635.7h0M209.4 647.4h0M209.0 649.8h0M209.4 639.9h0M209.1 648.9h0M209.4 643.3h0M210.2 641.9h0M210.4 648.4h0M210.1 647.8h0M210.4 633.4h0M210.4 649.5h0M211.3 617.5h0M211.3 635.5h0M211.2 649.2h0M211.3 647.4h0M211.5 643.4h0M212.4 641.9h0M212.2 651.1h0M212.5 649.0h0M212.5 643.6h0M212.5 644.0h0M213.2 648.5h0M213.5 643.4h0M213.4 648.3h0M213.5 647.8h0M213.6 649.8h0M214.6 640.1h0M214.2 649.2h0M214.5 617.0h0M214.3 652.0h0M214.4 653.2h0M215.5 652.2h0M215.6 651.9h0M215.5 647.6h0M215.7 650.5h0M215.3 628.6h0M216.6 655.6h0M216.5 654.3h0M216.4 652.5h0M216.4 636.9h0M216.5 656.7h0M217.6 648.6h0M217.4 656.1h0M217.4 654.8h0M217.4 659.7h0M217.5 660.8h0M218.5 650.1h0M218.5 652.2h0M218.4 662.2h0M218.5 660.3h0M218.5 661.4h0M219.6 661.8h0M219.8 662.3h0M219.6 660.5h0M219.5 658.4h0M219.8 663.6h0M220.5 670.3h0M220.5 656.1h0M220.7 645.0h0M220.8 669.9h0M220.7 657.5h0M221.6 654.4h0M221.5 665.5h0M221.7 650.5h0M221.9 661.5h0M221.5 658.2h0M222.7 647.5h0M222.8 650.6h0M222.8 656.9h0M222.6 659.9h0M222.5 652.0h0M223.6 643.7h0M223.6 657.5h0M223.6 652.4h0M223.8 657.7h0M223.7 646.4h0M224.9 657.8h0M225.0 654.3h0M225.0 652.2h0M225.0 649.9h0M224.7 614.5h0M225.9 657.2h0M225.9 655.0h0M225.7 657.9h0M225.8 652.8h0M225.9 654.7h0M227.0 646.3h0M227.0 630.2h0M226.9 652.7h0M226.9 641.4h0M227.1 644.5h0M227.9 653.9h0M227.9 635.5h0M227.8 643.8h0M227.8 650.9h0M228.0 645.1h0M228.8 650.2h0M229.0 642.3h0M229.0 647.4h0M229.0 624.0h0M229.1 650.7h0M229.9 652.5h0M230.0 652.7h0M230.0 651.8h0M230.0 648.2h0M230.2 651.0h0M231.2 643.8h0M231.1 645.7h0M231.2 649.1h0M231.1 650.3h0M231.2 636.9h0M232.3 633.6h0M232.0 636.7h0M232.0 626.1h0M232.2 642.0h0M232.2 647.1h0M233.1 646.0h0M233.3 636.8h0M233.4 646.2h0M233.1 644.6h0M233.3 617.9h0M234.2 636.6h0M234.3 631.5h0M234.2 622.2h0M234.1 642.1h0M234.0 625.9h0M235.2 629.0h0M235.3 623.7h0M235.1 638.7h0M235.0 630.9h0M236.3 629.5h0M236.5 624.9h0M236.5 613.6h0M236.1 632.0h0M236.4 608.1h0M237.4 642.7h0M237.3 643.4h0M237.4 628.7h0M237.4 633.3h0M237.3 635.8h0M238.3 627.5h0M238.4 644.4h0M238.2 643.5h0M238.4 640.1h0M238.1 635.5h0M239.4 644.2h0M239.5 640.2h0M239.2 628.0h0M239.2 645.7h0M239.5 637.5h0M240.5 642.9h0M240.5 644.3h0M240.2 644.2h0M240.4 630.2h0M240.2 646.0h0M241.4 613.8h0M241.6 646.5h0M241.3 646.2h0M241.6 649.2h0M241.6 643.9h0M242.7 627.6h0M242.7 650.2h0M242.6 624.9h0M242.5 611.1h0M242.3 637.5h0M243.4 649.0h0M243.5 649.5h0M243.5 638.9h0M243.7 641.1h0M243.7 648.2h0M244.4 652.1h0M244.6 645.6h0M244.6 628.1h0M244.7 652.3h0M244.5 651.3h0M245.4 649.2h0M245.8 648.6h0M245.8 646.9h0M245.7 647.7h0M245.8 644.9h0M246.6 653.8h0M246.6 653.4h0M246.5 655.2h0M246.7 648.7h0M246.5 640.4h0M247.7 649.1h0M247.6 649.7h0M247.9 652.0h0M247.6 650.9h0M247.9 649.4h0M249.0 632.5h0M248.8 653.0h0M248.9 635.8h0M248.9 652.2h0M248.9 656.3h0M249.9 654.2h0M249.9 654.2h0M249.7 650.2h0M249.8 654.1h0M249.6 652.6h0M250.9 654.7h0M250.8 654.0h0M251.0 655.6h0M250.7 656.9h0M250.8 651.5h0M251.7 651.7h0M251.8 653.5h0M252.1 653.2h0M251.7 649.4h0M251.9 649.1h0M252.9 655.8h0M253.0 632.3h0M253.0 644.6h0M253.0 644.4h0M253.0 644.1h0M254.1 646.0h0M254.1 647.7h0M253.9 652.1h0M254.0 652.8h0M254.1 654.7h0M255.1 645.0h0M254.9 646.1h0M255.1 648.9h0M255.2 655.2h0M254.9 648.6h0M255.9 646.3h0M256.2 645.8h0M256.0 651.0h0M256.0 650.4h0M255.9 649.4h0M256.9 648.9h0M256.9 647.9h0M257.3 644.1h0M257.1 626.1h0M257.0 642.7h0M258.0 646.4h0M257.9 633.3h0M258.1 644.0h0M258.1 633.5h0M258.1 645.0h0M259.3 648.5h0M259.0 639.5h0M259.1 644.8h0M259.2 634.9h0M259.0 644.6h0M260.2 646.8h0M260.2 644.2h0M260.2 637.2h0M260.1 648.5h0M260.3 635.7h0M261.0 640.0h0M261.3 646.0h0M261.4 644.8h0M261.2 641.9h0M261.4 647.4h0M262.4 646.7h0M262.4 642.4h0M262.3 636.5h0M262.4 622.6h0M262.3 643.2h0M263.3 644.0h0M263.4 648.1h0M263.3 646.3h0M263.2 649.8h0M263.1 647.6h0M264.2 644.8h0M264.5 645.5h0M264.5 638.5h0M264.4 646.3h0M264.3 639.8h0M265.4 647.8h0M265.3 642.0h0M265.3 647.2h0M265.3 645.7h0M265.6 636.9h0M266.2 649.9h0M266.5 624.1h0M266.4 637.5h0M266.5 643.9h0M266.5 647.4h0M267.3 641.5h0M267.6 647.8h0M267.5 644.8h0M267.5 640.5h0M267.5 638.6h0M268.7 645.0h0M268.6 650.7h0M268.3 651.2h0M268.3 645.0h0M268.4 650.5h0M329.0 639.4h0M331.3 661.8h0M332.3 642.9h0M333.5 654.8h0M334.3 660.0h0M335.4 662.5h0M337.3 651.3h0M338.5 661.3h0M339.7 653.8h0M340.7 658.1h0M341.7 655.2h0M343.8 649.1h0M346.9 664.2h0M347.8 658.8h0M348.9 659.1h0M349.9 657.4h0M351.2 657.0h0M352.2 628.9h0M353.2 655.5h0M356.2 647.5h0M357.2 642.2h0M358.4 643.0h0M359.5 651.7h0M360.2 653.7h0M362.3 650.9h0M363.3 653.5h0M367.8 668.5h0M369.6 664.0h0M370.6 665.1h0"/>
<path stroke="#0000de" stroke-width="5.4" stroke-linecap="round" fill="none" d="M302.1 512.3h0M302.3 518.9h0M299.1 519.7h0M296.9 529.2h0M297.0 535.8h0M296.1 538.8h0M295.0 540.2h0M296.0 546.1h0M296.0 554.9h0M294.8 555.6h0M293.0 565.9h0M292.8 579.1h0M293.0 581.3h0M291.9 592.3h0M290.7 594.5h0M291.9 596.7h0M290.7 598.2h0M290.0 605.4h0M290.9 608.3h0M289.8 613.6h0M288.9 618.0h0M288.6 621.8h0M289.1 620.6h0M287.8 628.0h0M286.8 629.6h0M288.8 629.4h0M285.6 634.2h0M284.8 638.6h0M286.6 636.8h0M287.5 632.7h0M285.8 641.9h0M302.3 536.6h0M301.2 538.8h0M302.1 543.2h0M301.2 545.4h0M301.2 547.6h0M301.0 554.9h0M307.3 602.3h0M306.4 605.6h0M306.3 610.7h0M306.4 612.9h0M308.4 614.4h0M307.2 617.0h0M308.5 618.8h0M307.4 623.2h0M308.3 626.1h0M309.6 629.8h0M309.4 631.8h0M310.5 637.9h0M310.5 639.7h0M309.6 636.8h0M312.4 637.9h0M311.5 642.3h0M310.6 645.2h0M314.6 637.9h0M314.6 639.7h0M314.6 641.5h0M317.7 640.8h0M317.5 648.5h0M312.5 650.4h0M323.0 616.4h0M318.7 640.1h0M318.7 642.6h0M318.8 645.6h0M323.9 634.9h0M323.9 639.3h0M325.0 635.7h0M325.0 637.9h0M324.8 641.5h0M324.9 645.6h0M322.8 643.7h0M322.7 645.6h0M326.0 648.5h0M320.7 649.6h0M325.9 652.9h0M319.9 653.7h0M272.3 638.2h0M276.2 635.3h0M277.2 637.5h0M278.6 639.0h0M279.6 635.1h0M280.4 637.9h0M281.6 641.9h0M269.9 645.2h0M270.3 647.1h0M271.1 644.8h0M279.2 641.5h0M273.3 652.6h0M283.3 648.5h0M270.0 650.0h0M271.2 648.5h0M276.3 640.4h0M277.4 642.6h0M280.6 642.6h0M282.6 646.3h0M283.6 647.1h0M284.6 644.1h0M317.5 664.2h0M326.9 656.2h0M326.7 661.2h0M270.1 644.2h0M271.3 647.8h0M272.1 650.9h0M273.3 643.1h0M276.2 644.6h0M277.2 650.8h0M278.3 645.6h0M279.4 649.1h0M280.5 651.8h0M281.6 651.6h0M282.5 650.2h0M283.4 647.3h0M284.6 648.9h0M285.6 647.3h0M286.5 650.7h0M287.8 646.1h0M119.4 646.9h0M123.1 653.8h0M135.6 655.0h0M134.4 670.6h0M144.4 636.2h0M170.6 642.5h0M180.6 642.5h0M165.6 652.5h0M176.3 650.0h0M156.3 696.9h0M141.2 677.5h0M162.5 686.2h0M148.7 667.5h0M173.7 663.8h0M125.6 663.8h0M210.0 643.8h0M207.0 645.0h0M213.0 646.5h0M233.8 633.8h0M241.9 641.9h0M261.3 629.4h0M245.0 676.2h0M190.6 668.8h0M217.5 660.0h0M257.5 650.0h0M221.3 693.1h0M125.4 572.4h0M187.4 716.4h0M329.4 717.4h0M347.4 697.4h0M369.4 673.4h0M245.4 676.4h0M348.5 638.1h0M333.7 651.2h0M113.7 657.8h0M113.5 657.4h0M114.7 651.1h0M114.5 651.0h0M115.6 659.0h0M115.6 654.7h0M116.8 660.2h0M116.9 656.8h0M116.8 652.3h0M117.7 656.6h0M117.9 658.1h0M117.9 650.0h0M119.0 656.7h0M118.8 658.3h0M119.7 658.4h0M119.7 662.4h0M121.1 658.6h0M121.1 661.8h0M122.1 659.9h0M122.0 663.2h0M123.0 660.0h0M123.1 661.9h0M124.0 665.0h0M124.2 662.1h0M125.0 668.0h0M125.1 668.3h0M125.1 660.6h0M125.9 670.6h0M126.0 672.5h0M127.3 672.6h0M127.0 669.8h0M128.4 675.5h0M128.2 677.4h0M129.3 681.9h0M129.1 676.4h0M130.3 678.5h0M130.4 677.2h0M131.3 681.3h0M131.2 685.1h0M132.4 680.8h0M132.2 686.1h0M133.3 686.7h0M133.6 685.1h0M134.6 683.1h0M134.4 678.2h0M135.5 682.9h0M135.5 685.1h0M136.4 677.3h0M136.4 681.3h0M137.6 677.4h0M137.5 679.1h0M138.7 677.2h0M138.4 675.8h0M138.5 671.0h0M139.6 672.3h0M139.8 674.1h0M140.5 671.5h0M140.5 667.3h0M141.7 659.9h0M141.7 667.5h0M142.9 654.6h0M142.7 651.3h0M143.8 651.2h0M143.9 648.7h0M144.8 643.5h0M144.9 640.7h0M145.9 640.6h0M146.0 644.2h0M147.0 646.6h0M146.7 644.7h0M148.0 644.4h0M148.0 647.6h0M149.1 649.4h0M149.1 647.9h0M149.9 650.4h0M150.1 647.1h0M151.1 659.5h0M150.9 659.5h0M150.9 649.7h0M152.1 661.4h0M152.1 655.0h0M153.3 664.2h0M153.2 664.6h0M153.0 655.6h0M154.2 673.3h0M154.1 666.7h0M155.3 668.5h0M155.2 671.8h0M156.3 676.8h0M156.1 681.1h0M157.3 680.1h0M157.1 674.3h0M158.4 679.8h0M158.3 680.9h0M158.4 675.8h0M159.4 686.1h0M159.4 684.2h0M160.3 684.9h0M160.4 682.4h0M160.3 675.5h0M161.3 685.7h0M161.5 689.3h0M162.6 680.4h0M162.5 680.2h0M163.4 675.5h0M163.5 671.8h0M164.6 663.2h0M164.5 661.9h0M164.6 656.9h0M165.5 662.2h0M165.5 662.4h0M166.7 661.2h0M166.6 666.4h0M166.7 657.1h0M167.6 666.6h0M167.7 667.7h0M168.7 669.8h0M168.7 668.4h0M169.6 671.8h0M169.7 670.2h0M170.7 673.0h0M170.8 674.8h0M171.8 672.6h0M171.8 679.5h0M172.8 673.7h0M172.8 677.0h0M172.8 670.8h0M174.0 675.3h0M174.0 680.0h0M174.9 678.0h0M175.1 674.3h0M175.0 671.1h0M176.0 672.4h0M176.0 672.6h0M176.9 672.4h0M177.1 669.4h0M178.1 668.2h0M178.0 663.6h0M179.1 657.3h0M179.3 662.1h0M180.0 656.4h0M180.3 653.2h0M181.3 657.7h0M181.3 662.7h0M181.2 652.9h0M182.3 652.9h0M182.2 654.0h0M183.4 656.0h0M183.4 652.2h0M184.4 656.6h0M184.2 658.3h0M185.5 658.5h0M185.4 660.9h0M186.5 665.0h0M186.5 660.1h0M187.5 663.3h0M187.4 659.8h0M188.4 657.7h0M188.5 656.6h0M188.5 653.4h0M189.5 662.9h0M189.5 663.5h0M190.5 657.3h0M190.6 658.9h0M191.5 658.4h0M191.8 655.1h0M192.7 656.3h0M192.5 649.5h0M193.8 654.6h0M193.6 655.7h0M194.6 651.2h0M194.6 653.3h0M196.0 649.6h0M195.6 655.1h0M197.0 654.3h0M196.9 657.3h0M197.8 658.6h0M197.8 652.2h0M198.7 656.4h0M199.1 659.0h0M199.8 656.2h0M200.1 655.7h0M201.1 656.7h0M201.1 657.9h0M202.1 660.7h0M202.2 663.2h0M202.9 658.2h0M202.9 661.7h0M204.0 660.8h0M204.2 664.1h0M205.2 664.3h0M205.1 657.6h0M206.1 658.1h0M206.0 660.5h0M206.3 653.4h0M207.1 658.4h0M207.1 660.5h0M208.2 653.9h0M208.2 656.0h0M209.2 655.4h0M209.2 658.1h0M210.4 656.7h0M210.3 656.4h0M211.5 658.0h0M211.4 654.7h0M212.5 655.0h0M212.3 655.2h0M213.3 651.4h0M213.6 658.2h0M213.6 647.3h0M214.7 660.1h0M214.7 658.5h0M215.4 657.7h0M215.7 662.2h0M215.7 653.4h0M216.6 662.8h0M216.4 662.7h0M217.7 662.1h0M217.7 661.6h0M218.6 670.1h0M218.8 671.6h0M218.6 660.9h0M219.6 671.6h0M219.8 668.0h0M220.9 675.9h0M220.7 678.2h0M221.8 672.4h0M222.0 671.3h0M222.7 664.0h0M222.8 665.1h0M223.9 663.4h0M223.8 665.0h0M225.1 667.0h0M224.9 662.6h0M226.1 659.5h0M226.0 664.7h0M227.0 659.2h0M227.0 656.2h0M228.0 657.6h0M227.9 665.2h0M229.2 652.1h0M229.2 657.9h0M229.2 649.7h0M230.2 654.2h0M230.0 658.5h0M231.2 657.8h0M231.2 658.5h0M232.3 652.3h0M232.3 650.4h0M233.4 651.4h0M233.4 655.4h0M234.4 645.6h0M234.2 650.2h0M235.2 640.3h0M235.2 647.6h0M236.5 647.4h0M236.5 645.2h0M237.4 645.3h0M237.5 645.0h0M238.5 652.7h0M238.4 652.4h0M238.3 640.9h0M239.4 654.3h0M239.4 652.2h0M239.5 644.2h0M240.3 652.0h0M240.5 653.1h0M241.6 651.3h0M241.4 655.4h0M241.7 645.5h0M242.5 657.3h0M242.5 653.3h0M242.5 646.8h0M243.5 655.0h0M243.7 653.1h0M244.6 657.9h0M244.6 655.0h0M245.9 655.2h0M245.8 656.6h0M246.8 658.5h0M246.8 663.2h0M247.7 661.3h0M247.8 661.3h0M248.7 661.5h0M248.9 658.9h0M249.7 659.6h0M250.0 664.5h0M251.0 662.4h0M251.0 664.6h0M252.1 662.4h0M252.0 658.0h0M253.1 660.3h0M253.0 665.6h0M254.0 656.6h0M254.0 657.8h0M254.0 652.2h0M254.9 662.6h0M255.1 660.8h0M256.1 658.9h0M256.2 657.5h0M257.2 652.6h0M257.3 654.4h0M258.4 652.9h0M258.1 656.4h0M259.2 656.8h0M259.2 651.7h0M259.2 647.1h0M260.1 650.6h0M260.3 657.6h0M261.3 650.5h0M261.4 654.3h0M262.3 651.4h0M262.3 655.4h0M263.3 652.2h0M263.5 651.0h0M264.5 652.5h0M264.3 651.8h0M265.3 658.7h0M265.6 652.0h0M265.3 649.3h0M266.5 652.1h0M266.6 656.4h0M267.5 651.6h0M267.4 652.9h0M268.7 656.9h0M268.4 657.6h0M329.3 672.9h0M330.4 660.7h0M331.2 661.9h0M332.4 670.1h0M333.3 666.6h0M334.3 676.9h0M335.6 667.0h0M335.5 664.5h0M336.4 664.4h0M337.5 676.5h0M337.6 674.4h0M338.5 670.5h0M339.4 665.3h0M339.6 675.5h0M340.7 670.1h0M340.5 665.3h0M341.6 666.8h0M342.6 675.5h0M342.7 670.1h0M343.9 668.6h0M344.7 672.1h0M344.8 676.2h0M345.9 668.9h0M346.9 665.4h0M347.9 671.0h0M348.0 663.4h0M349.1 665.7h0M350.0 673.7h0M351.0 664.4h0M352.2 662.5h0M353.2 660.6h0M353.3 664.4h0M354.0 665.0h0M355.3 656.1h0M355.2 666.6h0M356.3 652.8h0M357.5 667.7h0M358.4 663.9h0M358.4 655.3h0M359.4 659.0h0M360.5 666.4h0M361.5 659.6h0M362.5 666.7h0M363.6 658.7h0M364.5 665.4h0M365.4 676.1h0M365.7 670.0h0M366.5 678.4h0M367.8 676.2h0M367.8 671.8h0M368.6 681.5h0M369.8 682.5h0M369.6 678.7h0M370.8 682.6h0M371.8 684.2h0M371.8 683.4h0"/>
<path stroke="#df6bd2" stroke-width="5.4" stroke-linecap="round" fill="none" d="M301.4 510.1h0M325.2 514.5h0M325.2 553.4h0M325.2 571.8h0M325.2 629.7h0M275.7 610.0h0M274.5 614.9h0M274.5 623.2h0M274.5 625.0h0M275.7 626.1h0M274.7 630.2h0M274.4 631.8h0M274.5 638.6h0M275.7 637.9h0M294.1 545.4h0M295.0 545.4h0M294.1 551.2h0M295.4 552.0h0M294.3 559.3h0M293.2 563.0h0M295.2 563.7h0M295.2 565.9h0M295.2 568.1h0M293.2 566.6h0M294.1 565.2h0M294.1 568.1h0M293.0 571.8h0M293.0 574.0h0M292.2 576.2h0M292.0 582.0h0M292.2 585.0h0M292.0 587.2h0M292.0 589.4h0M291.1 595.2h0M290.9 601.9h0M290.0 609.9h0M289.1 612.7h0M289.0 615.9h0M291.1 615.1h0M290.2 618.7h0M290.0 622.3h0M290.9 626.1h0M288.8 625.9h0M287.9 628.6h0M291.0 602.7h0M290.1 610.4h0M288.1 632.4h0M285.8 637.9h0M283.7 640.4h0M286.8 639.0h0M288.0 639.0h0M288.0 641.5h0M287.0 643.0h0M291.1 639.9h0M284.7 642.3h0M283.8 644.1h0M298.2 522.6h0M299.5 527.0h0M298.4 531.4h0M299.1 532.1h0M298.2 534.3h0M298.2 539.5h0M298.4 544.6h0M298.4 549.0h0M299.3 549.8h0M299.3 553.4h0M302.5 545.4h0M302.5 547.0h0M302.5 552.7h0M301.4 554.2h0M302.5 556.4h0M302.5 560.0h0M305.5 576.2h0M306.4 623.6h0M306.4 626.1h0M306.6 631.6h0M306.6 633.8h0M307.6 630.2h0M307.4 633.1h0M307.7 636.0h0M308.5 638.2h0M308.6 641.2h0M309.0 637.5h0M312.7 644.1h0M311.7 646.3h0M312.8 649.6h0M314.9 649.3h0M315.9 648.5h0M311.7 654.0h0M313.7 652.9h0M314.8 652.2h0M315.8 652.9h0M316.8 652.9h0M312.6 654.4h0M319.1 633.5h0M325.1 629.8h0M320.9 647.1h0M322.0 648.5h0M323.2 647.1h0M324.1 646.3h0M321.2 650.7h0M322.1 651.5h0M323.3 652.2h0M324.1 652.2h0M326.4 651.5h0M326.4 653.2h0M318.9 651.5h0M317.9 653.7h0M269.5 669.0h0M269.5 671.7h0M269.6 674.5h0M273.5 658.4h0M274.5 656.9h0M276.7 654.9h0M278.7 654.9h0M280.0 654.5h0M280.8 656.5h0M282.9 657.0h0M283.8 657.5h0M285.9 661.9h0M286.9 655.3h0M311.8 659.8h0M320.1 658.4h0M322.1 656.6h0M324.2 658.9h0M320.0 668.5h0M323.1 667.1h0M326.1 667.6h0M317.9 685.4h0M327.0 665.3h0M316.9 657.1h0M313.9 656.3h0M269.3 661.9h0M269.6 660.9h0M269.4 659.6h0M269.2 658.5h0M269.4 657.1h0M269.2 656.5h0M269.2 654.8h0M269.5 654.5h0M269.6 652.3h0M269.4 651.5h0M269.2 651.1h0M269.4 649.9h0M270.3 659.3h0M270.4 657.2h0M270.6 655.6h0M270.5 654.2h0M270.5 652.8h0M270.3 650.5h0M270.6 649.2h0M270.5 648.5h0M270.3 647.1h0M270.2 644.9h0M271.6 651.4h0M271.7 649.6h0M271.2 649.1h0M271.6 647.5h0M271.7 646.3h0M271.2 644.7h0M271.6 643.8h0M271.2 642.5h0M271.7 640.6h0M272.4 652.9h0M272.3 650.5h0M272.3 649.5h0M272.5 648.6h0M272.6 647.3h0M272.5 646.0h0M272.4 644.5h0M272.4 642.0h0M272.6 641.6h0M272.7 640.3h0M273.7 651.2h0M273.3 648.6h0M273.4 648.1h0M273.6 646.0h0M273.4 644.6h0M273.3 641.6h0M276.7 653.0h0M276.6 650.9h0M276.6 650.1h0M276.8 649.3h0M276.5 647.0h0M276.8 646.6h0M276.5 644.6h0M276.8 644.0h0M276.8 641.8h0M276.7 641.1h0M277.4 652.2h0M277.5 651.2h0M277.5 649.6h0M277.7 649.0h0M277.5 647.0h0M277.4 646.3h0M277.7 644.1h0M277.7 643.5h0M277.9 642.2h0M277.4 640.8h0M278.5 653.3h0M278.6 651.5h0M278.5 650.4h0M278.9 648.3h0M278.8 647.3h0M278.7 646.7h0M278.5 645.6h0M278.9 643.3h0M278.9 642.9h0M278.8 641.0h0M279.6 652.8h0M279.5 652.1h0M279.8 650.4h0M279.8 649.4h0M279.9 647.8h0M279.7 646.8h0M279.9 645.3h0M279.7 644.2h0M279.9 643.2h0M279.8 642.2h0M280.8 654.0h0M280.8 651.5h0M280.9 650.5h0M280.7 649.2h0M280.8 648.3h0M280.9 647.5h0M280.9 646.3h0M280.8 644.4h0M280.6 642.8h0M281.9 653.5h0M281.7 653.3h0M281.7 651.3h0M281.7 650.7h0M282.0 648.8h0M281.8 647.3h0M281.7 646.4h0M281.7 645.4h0M281.9 643.6h0M282.8 653.9h0M282.7 653.2h0M282.8 651.0h0M283.0 649.9h0M283.1 649.2h0M282.7 647.8h0M282.7 646.8h0M282.8 645.0h0M283.8 654.2h0M284.1 653.5h0M283.7 652.8h0M284.1 651.7h0M284.0 650.0h0M283.8 648.6h0M283.6 648.2h0M283.8 647.2h0M284.8 655.0h0M284.7 653.3h0M284.9 652.2h0M285.0 650.9h0M285.1 649.9h0M284.8 649.0h0M284.8 648.4h0M284.9 646.5h0M285.8 654.7h0M286.0 653.4h0M286.0 652.0h0M285.9 650.9h0M286.1 650.5h0M286.2 648.7h0M285.8 647.9h0M286.0 646.3h0M287.0 653.6h0M287.1 652.4h0M287.0 651.6h0M286.8 650.4h0M287.1 649.3h0M287.1 648.7h0M287.2 646.7h0M288.0 648.3h0M287.9 646.8h0M311.8 658.0h0M311.8 653.8h0M313.0 654.3h0M312.7 651.4h0M313.7 651.5h0M313.8 655.7h0M315.1 657.5h0M314.8 654.1h0M316.1 651.2h0M316.1 650.2h0M317.0 650.2h0M316.8 656.7h0M318.1 656.1h0M318.2 653.0h0M319.1 651.1h0M319.1 655.9h0M320.1 651.1h0M320.3 656.9h0M321.3 650.0h0M321.2 653.6h0M322.1 653.9h0M322.2 653.3h0M323.0 650.0h0M323.2 655.1h0M324.4 653.7h0M324.3 652.5h0M325.1 653.9h0M325.3 650.1h0M326.5 656.3h0M326.3 657.6h0M100.0 666.2h0M98.1 670.0h0M101.9 669.4h0M106.2 668.8h0M105.0 673.8h0M98.8 672.5h0M102.5 671.9h0M110.6 657.5h0M125.6 633.1h0M133.8 665.0h0M152.5 693.0h0M159.4 691.9h0M130.6 693.1h0M171.2 691.2h0M199.4 682.5h0M193.7 641.2h0M200.6 643.1h0M238.7 616.2h0M256.2 618.8h0M256.2 640.0h0M217.5 699.4h0M197.4 579.4h0M259.4 591.4h0M238.4 616.4h0M256.4 618.4h0M136.6 701.4h0M152.4 693.4h0M161.4 709.4h0M171.4 691.4h0M199.4 682.4h0M210.4 704.4h0M217.4 700.4h0M217.4 706.4h0M237.4 703.4h0M237.4 712.4h0M197.4 737.4h0M237.4 753.4h0M187.4 688.4h0M247.4 713.4h0M331.4 733.4h0M341.4 702.4h0M331.4 694.0h0M335.0 692.0h0M332.0 700.0h0M336.0 698.0h0M335.4 706.4h0M331.4 703.0h0M348.1 648.1h0M113.6 650.6h0M113.5 650.7h0M114.6 650.4h0M114.6 650.5h0M115.7 652.0h0M115.7 652.7h0M116.7 656.8h0M116.5 658.5h0M117.7 654.3h0M117.8 657.8h0M118.6 654.3h0M118.8 659.3h0M119.7 656.5h0M119.7 658.5h0M119.7 663.1h0M120.8 657.6h0M120.6 660.0h0M120.6 661.8h0M120.7 665.8h0M121.8 659.5h0M121.7 661.0h0M121.7 662.5h0M121.9 667.0h0M122.8 660.8h0M122.9 665.3h0M123.0 666.9h0M122.9 671.0h0M124.0 663.2h0M124.0 665.2h0M123.9 670.0h0M124.0 673.6h0M125.0 664.3h0M125.0 666.5h0M125.0 670.1h0M124.7 672.6h0M124.9 673.8h0M126.0 669.3h0M126.1 671.1h0M125.9 673.2h0M125.9 676.9h0M126.1 679.2h0M126.9 671.7h0M127.0 673.3h0M127.2 677.7h0M127.0 682.1h0M127.9 674.7h0M128.2 677.4h0M128.2 680.9h0M128.1 685.7h0M128.9 675.7h0M129.1 678.8h0M129.2 680.7h0M128.9 684.8h0M129.0 686.7h0M130.2 676.2h0M130.2 677.7h0M130.1 681.4h0M130.0 684.6h0M131.3 678.3h0M131.2 682.3h0M131.2 686.0h0M131.3 688.2h0M132.3 680.4h0M132.1 684.8h0M132.2 686.4h0M132.1 689.2h0M133.3 680.0h0M133.4 685.7h0M133.1 687.8h0M134.1 677.3h0M134.1 681.4h0M134.3 683.6h0M135.2 679.2h0M135.2 683.9h0M136.2 678.9h0M136.4 682.1h0M136.4 683.3h0M137.6 676.7h0M137.3 680.8h0M137.6 681.9h0M137.5 686.0h0M138.5 674.8h0M138.6 677.5h0M138.5 681.2h0M139.5 671.0h0M139.5 676.6h0M139.5 678.3h0M139.3 680.3h0M140.7 666.7h0M140.6 670.5h0M140.7 672.8h0M140.6 674.6h0M140.6 678.0h0M141.6 660.4h0M141.4 664.6h0M141.6 666.2h0M141.6 671.2h0M141.7 672.6h0M141.4 674.3h0M141.5 679.6h0M142.6 649.3h0M142.6 652.9h0M142.5 654.8h0M142.6 657.7h0M142.6 662.9h0M142.5 665.6h0M142.6 666.1h0M142.6 670.3h0M142.6 672.8h0M143.7 646.3h0M143.5 648.6h0M143.5 652.6h0M143.6 654.0h0M143.5 657.2h0M143.6 660.1h0M143.7 663.8h0M143.7 667.0h0M144.5 642.2h0M144.5 643.6h0M144.8 647.3h0M144.7 651.9h0M144.6 652.7h0M145.7 641.5h0M145.9 645.1h0M145.9 647.1h0M145.6 650.0h0M145.7 653.3h0M145.9 653.9h0M146.6 642.7h0M146.8 646.4h0M146.6 647.0h0M146.8 649.7h0M146.6 654.4h0M146.7 656.8h0M146.9 659.1h0M147.9 644.3h0M147.8 646.5h0M147.7 649.9h0M147.9 652.3h0M147.7 655.1h0M147.6 656.8h0M149.0 646.3h0M149.0 648.2h0M148.8 651.6h0M148.8 652.8h0M148.9 655.8h0M149.0 660.3h0M148.8 662.2h0M148.9 663.5h0M150.0 648.0h0M149.8 649.5h0M150.0 652.6h0M149.8 654.7h0M150.0 658.3h0M149.7 659.9h0M149.9 662.4h0M150.8 653.1h0M150.8 655.1h0M150.8 657.6h0M150.8 661.8h0M151.0 665.0h0M151.0 668.0h0M151.1 670.4h0M151.8 655.5h0M151.9 658.9h0M152.1 662.5h0M151.9 664.3h0M152.0 667.5h0M152.0 671.2h0M151.9 672.7h0M152.9 659.6h0M153.0 664.6h0M152.8 665.9h0M153.2 668.1h0M153.0 671.8h0M153.0 672.7h0M153.0 677.3h0M154.1 666.4h0M153.9 668.6h0M153.9 672.1h0M154.2 674.5h0M153.9 678.4h0M154.2 678.8h0M155.1 669.1h0M155.1 671.9h0M154.9 676.0h0M155.1 678.1h0M156.3 674.9h0M156.1 677.3h0M156.1 681.7h0M156.3 683.4h0M157.1 677.2h0M157.0 680.7h0M157.0 681.5h0M158.0 680.9h0M158.3 683.6h0M159.1 679.2h0M159.2 682.0h0M160.4 679.2h0M160.3 681.8h0M161.2 681.9h0M161.2 683.2h0M162.5 679.4h0M162.4 682.8h0M163.5 668.6h0M163.5 671.4h0M163.4 674.6h0M163.4 678.0h0M163.5 681.2h0M163.3 682.3h0M164.4 660.5h0M164.5 662.8h0M164.6 667.7h0M164.4 668.4h0M164.3 672.3h0M164.6 674.3h0M164.3 678.8h0M164.5 681.4h0M165.5 660.8h0M165.6 662.3h0M165.5 667.1h0M165.5 670.0h0M165.6 672.4h0M165.3 674.9h0M165.7 678.4h0M165.3 679.3h0M166.6 661.5h0M166.7 664.6h0M166.5 667.0h0M166.6 669.3h0M166.6 672.5h0M166.4 674.0h0M166.4 676.3h0M166.6 679.9h0M167.5 663.9h0M167.6 666.9h0M167.4 668.5h0M167.5 670.9h0M167.5 674.6h0M167.7 675.8h0M167.6 677.8h0M167.6 680.9h0M168.5 664.7h0M168.4 666.4h0M168.8 669.1h0M168.4 671.8h0M168.8 674.6h0M168.5 676.6h0M168.7 679.6h0M168.4 683.0h0M169.7 667.5h0M169.5 670.7h0M169.7 672.9h0M169.5 674.5h0M169.8 679.0h0M169.5 679.8h0M169.6 683.8h0M170.9 672.4h0M170.8 673.2h0M170.7 677.9h0M170.6 679.5h0M170.8 682.9h0M171.5 673.3h0M171.9 675.5h0M171.6 680.5h0M171.5 682.7h0M172.9 675.5h0M172.7 677.9h0M172.7 680.8h0M173.8 676.5h0M173.9 678.6h0M173.9 681.6h0M174.8 674.3h0M174.9 678.3h0M174.8 679.8h0M175.9 669.4h0M176.0 671.9h0M175.9 676.3h0M175.9 676.6h0M176.9 668.0h0M177.1 669.6h0M177.0 671.6h0M176.8 675.8h0M177.0 678.0h0M177.0 680.0h0M177.8 662.5h0M177.9 666.2h0M177.8 667.7h0M178.1 669.5h0M177.9 672.4h0M177.9 676.5h0M178.0 678.8h0M179.1 656.1h0M179.1 659.3h0M179.2 661.5h0M179.1 663.6h0M178.8 667.6h0M179.2 670.0h0M179.1 674.2h0M178.8 677.4h0M180.1 654.4h0M180.0 656.9h0M179.9 658.7h0M180.0 661.5h0M180.1 664.1h0M179.9 667.9h0M180.0 670.7h0M180.2 673.3h0M181.1 657.8h0M180.9 660.2h0M181.2 663.3h0M181.2 664.7h0M181.2 666.9h0M181.2 669.6h0M181.2 673.7h0M180.9 676.1h0M182.0 651.7h0M181.9 654.2h0M182.3 659.2h0M182.1 660.2h0M182.2 662.7h0M182.0 666.0h0M182.3 669.8h0M182.1 670.2h0M183.1 652.9h0M183.0 654.5h0M183.2 656.5h0M183.1 660.1h0M183.3 663.7h0M183.1 666.4h0M183.0 669.9h0M183.2 671.5h0M183.3 673.4h0M184.2 656.9h0M184.1 659.7h0M184.2 663.4h0M184.4 664.5h0M184.3 668.5h0M184.2 671.4h0M184.1 674.4h0M185.2 657.2h0M185.3 659.1h0M185.4 663.0h0M185.2 665.8h0M185.3 668.7h0M185.1 670.8h0M185.2 674.4h0M185.1 675.4h0M186.1 659.1h0M186.1 662.8h0M186.1 666.2h0M186.4 667.1h0M186.4 670.9h0M186.2 673.3h0M186.4 676.3h0M186.4 678.7h0M187.4 659.1h0M187.4 661.9h0M187.4 664.5h0M187.2 666.0h0M187.4 670.7h0M187.5 671.1h0M187.4 675.4h0M187.3 678.3h0M187.4 679.4h0M188.3 656.4h0M188.3 658.6h0M188.3 663.6h0M188.5 665.9h0M188.2 668.2h0M188.2 670.1h0M188.3 672.3h0M188.4 674.8h0M188.3 678.4h0M189.3 658.2h0M189.3 661.8h0M189.2 664.9h0M189.5 667.2h0M189.5 671.1h0M189.4 673.0h0M189.5 676.4h0M189.4 677.6h0M189.4 681.5h0M190.5 657.6h0M190.3 659.9h0M190.4 661.8h0M190.6 664.4h0M190.5 667.2h0M190.3 670.4h0M190.5 672.0h0M190.3 676.2h0M191.5 653.6h0M191.5 658.2h0M191.4 659.6h0M191.5 663.2h0M191.5 665.1h0M191.5 668.2h0M191.4 672.3h0M191.5 674.2h0M192.4 650.6h0M192.6 652.7h0M192.4 654.6h0M192.7 659.5h0M192.4 661.2h0M192.7 664.0h0M192.6 666.9h0M192.6 668.6h0M193.7 655.4h0M193.6 655.9h0M193.5 660.7h0M193.7 663.7h0M193.6 664.3h0M193.5 668.0h0M193.7 671.4h0M193.7 674.4h0M194.6 652.2h0M194.5 655.0h0M194.5 656.0h0M194.7 658.5h0M194.6 663.6h0M194.7 664.2h0M194.5 668.6h0M194.6 669.8h0M195.5 651.8h0M195.6 652.7h0M195.8 655.8h0M195.5 657.8h0M195.6 660.0h0M195.6 664.6h0M195.6 667.1h0M195.6 669.0h0M196.6 655.4h0M196.7 656.0h0M196.8 658.8h0M196.8 662.9h0M196.7 665.5h0M196.5 669.7h0M197.9 654.7h0M197.8 657.4h0M197.6 660.2h0M197.6 662.5h0M197.9 664.7h0M197.8 667.8h0M198.7 652.9h0M198.9 657.0h0M198.9 657.5h0M198.7 661.6h0M198.7 664.4h0M198.8 667.2h0M199.8 654.0h0M199.6 657.7h0M199.6 660.4h0M199.9 662.4h0M199.7 666.5h0M200.0 668.0h0M200.8 654.6h0M200.8 660.5h0M200.8 661.8h0M200.8 665.9h0M200.9 668.1h0M202.0 657.0h0M201.8 660.3h0M201.9 664.4h0M201.9 665.8h0M201.9 670.3h0M203.0 660.2h0M202.9 662.6h0M202.8 665.5h0M203.1 669.5h0M204.0 659.9h0M204.0 664.0h0M203.8 665.7h0M203.9 669.6h0M204.9 657.5h0M205.0 660.9h0M204.9 665.3h0M205.1 665.7h0M205.0 669.0h0M205.1 671.9h0M206.0 657.7h0M206.0 662.6h0M205.9 664.1h0M206.1 666.4h0M206.1 670.8h0M206.0 673.7h0M207.0 656.3h0M207.0 659.3h0M207.1 661.5h0M207.1 662.8h0M206.9 666.0h0M207.1 669.0h0M207.0 672.1h0M207.0 674.5h0M208.3 653.6h0M208.2 656.2h0M208.0 658.8h0M208.0 660.8h0M208.1 664.4h0M208.3 665.0h0M208.0 668.8h0M208.2 672.0h0M208.3 674.1h0M209.1 653.7h0M209.0 656.4h0M209.2 659.1h0M209.1 661.6h0M209.3 663.6h0M209.0 665.3h0M209.3 669.4h0M209.2 670.7h0M210.2 650.8h0M210.1 654.3h0M210.3 657.4h0M210.2 659.9h0M210.2 662.2h0M210.3 664.5h0M210.2 669.7h0M210.2 671.2h0M211.1 652.7h0M211.4 654.3h0M211.1 657.1h0M211.4 661.5h0M211.3 663.2h0M211.4 666.9h0M211.3 668.1h0M212.2 652.6h0M212.4 656.6h0M212.4 658.7h0M212.2 662.5h0M212.4 664.7h0M212.1 665.9h0M212.3 671.1h0M213.2 650.8h0M213.1 654.8h0M213.2 658.1h0M213.2 659.6h0M213.4 662.3h0M213.3 664.2h0M213.2 668.8h0M213.2 669.5h0M214.5 654.6h0M214.2 656.9h0M214.3 660.2h0M214.2 663.0h0M214.4 666.6h0M214.4 667.8h0M214.5 669.5h0M214.3 674.2h0M214.2 675.8h0M215.4 657.6h0M215.5 661.3h0M215.3 662.5h0M215.3 666.4h0M215.4 669.8h0M215.2 671.9h0M215.6 675.0h0M215.3 677.8h0M215.6 680.1h0M216.5 660.2h0M216.6 662.4h0M216.5 665.7h0M216.5 667.7h0M216.3 670.1h0M216.5 672.0h0M216.4 675.2h0M216.4 679.1h0M216.5 681.5h0M216.3 684.4h0M217.6 662.0h0M217.3 664.9h0M217.5 667.7h0M217.5 671.7h0M217.4 674.9h0M217.5 676.0h0M217.5 679.2h0M217.3 681.7h0M217.6 685.1h0M218.4 665.9h0M218.4 669.8h0M218.6 672.5h0M218.4 675.0h0M218.6 678.1h0M218.5 679.7h0M218.7 682.0h0M218.7 686.2h0M218.5 686.7h0M219.7 668.5h0M219.7 672.1h0M219.6 675.0h0M219.5 677.8h0M219.5 679.9h0M219.5 683.6h0M219.5 686.6h0M219.6 687.6h0M220.6 675.0h0M220.5 678.0h0M220.7 680.6h0M220.6 682.6h0M220.4 684.3h0M220.7 686.7h0M220.6 690.7h0M221.5 669.1h0M221.6 670.9h0M221.6 674.0h0M221.5 676.4h0M221.6 679.7h0M221.6 681.0h0M221.7 685.1h0M221.5 687.1h0M222.5 664.4h0M222.7 666.5h0M222.6 669.1h0M222.8 673.5h0M222.7 675.8h0M222.7 679.2h0M222.5 680.0h0M222.5 682.5h0M222.7 686.1h0M223.7 660.7h0M223.6 663.8h0M223.9 665.2h0M223.6 667.6h0M223.7 671.1h0M223.7 674.4h0M223.8 676.1h0M223.6 680.3h0M223.6 681.6h0M224.7 659.6h0M224.7 664.4h0M224.8 665.7h0M224.6 670.0h0M224.8 671.9h0M224.6 673.4h0M224.7 676.7h0M224.9 680.6h0M224.7 683.2h0M225.7 659.5h0M225.7 661.8h0M225.9 664.7h0M225.9 668.4h0M225.8 672.4h0M225.9 672.9h0M225.8 675.5h0M225.7 680.3h0M225.8 681.4h0M226.7 656.9h0M226.9 659.1h0M226.7 662.1h0M226.9 663.4h0M226.9 668.2h0M226.9 671.6h0M227.0 672.9h0M226.7 675.2h0M226.7 678.4h0M228.0 657.5h0M227.8 662.2h0M227.7 664.3h0M227.8 667.7h0M227.8 669.1h0M228.0 672.8h0M227.9 674.2h0M227.9 676.5h0M228.0 680.0h0M229.1 652.1h0M229.1 655.6h0M229.0 658.2h0M228.9 661.8h0M229.1 662.8h0M228.8 667.2h0M229.0 669.5h0M228.8 670.4h0M229.0 672.6h0M229.8 654.0h0M230.0 657.4h0M230.1 660.6h0M230.0 663.8h0M230.1 664.7h0M229.8 668.5h0M230.1 669.3h0M230.1 672.3h0M229.9 676.9h0M229.8 678.4h0M231.0 653.6h0M231.0 655.9h0M230.9 660.1h0M231.2 661.5h0M231.1 663.0h0M231.0 666.6h0M230.9 670.2h0M231.0 671.1h0M231.0 676.2h0M231.0 678.7h0M232.0 652.4h0M231.9 653.8h0M232.0 655.8h0M232.2 660.9h0M232.0 662.2h0M232.2 664.6h0M232.0 667.2h0M232.1 670.2h0M232.0 675.0h0M233.1 649.8h0M232.9 653.2h0M233.0 654.6h0M233.1 658.8h0M233.0 660.1h0M233.0 663.3h0M233.1 664.9h0M233.0 670.2h0M234.2 646.6h0M234.2 648.9h0M234.2 651.9h0M234.2 655.3h0M234.2 658.1h0M234.0 658.6h0M234.0 663.7h0M234.2 666.3h0M235.3 641.3h0M235.3 643.7h0M235.3 647.0h0M235.1 649.4h0M235.3 651.8h0M235.3 656.0h0M235.3 658.7h0M235.3 660.6h0M236.1 641.1h0M236.2 643.5h0M236.2 647.1h0M236.1 648.9h0M236.3 652.0h0M236.1 653.6h0M236.1 657.5h0M236.2 660.2h0M236.1 661.1h0M237.3 644.9h0M237.4 648.3h0M237.2 651.4h0M237.3 654.6h0M237.2 657.1h0M237.3 660.0h0M237.2 661.3h0M238.3 647.1h0M238.2 650.4h0M238.4 652.7h0M238.2 655.7h0M238.2 657.6h0M238.3 660.6h0M238.2 663.7h0M239.3 648.7h0M239.2 652.7h0M239.4 654.5h0M239.2 658.1h0M239.4 659.7h0M239.3 663.6h0M239.3 667.4h0M240.3 648.0h0M240.5 653.2h0M240.2 654.8h0M240.3 657.3h0M240.3 660.5h0M240.5 662.6h0M240.3 666.3h0M240.2 668.3h0M241.6 650.8h0M241.4 654.5h0M241.5 656.0h0M241.5 660.0h0M241.5 661.7h0M241.5 663.7h0M241.2 668.3h0M242.3 652.7h0M242.4 655.1h0M242.4 657.6h0M242.5 660.2h0M242.3 662.3h0M242.5 666.7h0M242.6 667.5h0M243.3 650.8h0M243.5 653.6h0M243.3 658.7h0M243.6 659.9h0M243.5 663.1h0M243.6 665.9h0M244.3 655.1h0M244.3 656.6h0M244.5 661.2h0M244.6 662.9h0M244.4 667.0h0M245.5 656.6h0M245.6 658.7h0M245.5 660.2h0M245.5 663.5h0M245.4 665.6h0M245.7 670.6h0M246.7 658.7h0M246.5 661.5h0M246.7 662.7h0M246.7 667.7h0M246.5 668.2h0M246.4 672.4h0M247.7 656.7h0M247.5 658.9h0M247.7 661.6h0M247.5 666.0h0M247.6 667.0h0M247.6 670.2h0M248.6 659.7h0M248.6 662.2h0M248.5 663.9h0M248.6 666.4h0M248.7 669.4h0M248.6 672.0h0M248.7 676.1h0M249.7 658.3h0M249.7 660.1h0M249.6 663.9h0M249.9 667.1h0M249.6 669.5h0M249.7 671.3h0M249.7 674.5h0M249.7 676.1h0M250.6 659.3h0M250.6 662.3h0M250.8 665.1h0M250.6 669.3h0M250.8 671.7h0M250.8 675.1h0M250.6 678.0h0M250.8 679.1h0M251.7 657.7h0M251.7 660.1h0M251.8 662.9h0M251.7 665.3h0M251.7 669.0h0M252.0 671.0h0M251.8 673.2h0M251.8 676.8h0M252.8 659.6h0M252.7 661.5h0M252.9 665.2h0M252.8 667.3h0M253.0 669.3h0M252.9 671.3h0M253.9 656.2h0M253.9 659.1h0M253.9 661.7h0M253.9 664.3h0M254.0 668.9h0M254.0 670.3h0M254.9 657.9h0M254.8 661.6h0M255.0 663.3h0M254.7 666.6h0M255.1 669.4h0M256.1 654.7h0M255.9 656.4h0M256.1 659.4h0M256.0 663.5h0M255.9 665.4h0M255.8 667.9h0M256.9 651.7h0M256.9 656.4h0M256.9 658.0h0M257.1 662.2h0M256.8 665.1h0M257.0 667.7h0M258.1 651.7h0M258.1 656.2h0M258.2 657.4h0M258.1 660.7h0M257.9 664.4h0M257.9 665.0h0M259.0 649.9h0M259.2 654.2h0M258.9 655.4h0M259.2 659.4h0M259.0 663.6h0M258.9 665.8h0M258.9 669.3h0M260.2 650.3h0M260.2 654.0h0M260.0 656.5h0M260.1 661.4h0M260.0 661.6h0M260.2 665.4h0M260.0 670.2h0M261.1 649.9h0M261.0 654.0h0M261.1 655.8h0M261.3 657.3h0M261.1 661.7h0M261.0 663.5h0M261.2 666.5h0M261.3 670.0h0M261.0 672.5h0M261.0 675.5h0M262.1 651.5h0M262.1 653.7h0M262.2 656.7h0M262.3 660.2h0M262.4 661.7h0M262.2 665.1h0M262.0 666.7h0M262.2 670.0h0M262.1 672.6h0M262.1 675.9h0M263.4 652.8h0M263.1 654.4h0M263.4 658.0h0M263.4 661.2h0M263.3 661.4h0M263.2 666.5h0M263.3 668.4h0M263.4 670.4h0M263.1 672.3h0M263.3 676.8h0M263.4 678.7h0M264.3 653.5h0M264.2 656.3h0M264.4 658.1h0M264.3 660.1h0M264.1 662.9h0M264.4 667.2h0M264.1 669.4h0M264.1 672.3h0M264.2 675.0h0M264.4 675.3h0M264.4 677.9h0M265.2 654.2h0M265.3 654.4h0M265.4 658.5h0M265.3 661.3h0M265.3 662.6h0M265.5 666.3h0M265.4 669.1h0M265.4 672.2h0M265.2 674.9h0M265.2 676.4h0M265.2 679.6h0M266.3 653.9h0M266.4 655.2h0M266.5 659.3h0M266.5 660.3h0M266.5 663.7h0M266.4 665.6h0M266.5 669.4h0M266.4 672.4h0M266.4 673.1h0M266.5 675.9h0M266.5 680.8h0M267.4 651.0h0M267.3 652.9h0M267.4 656.1h0M267.4 659.9h0M267.4 661.6h0M267.3 663.1h0M267.4 667.8h0M267.5 668.6h0M267.5 673.4h0M267.3 675.8h0M268.5 654.5h0M268.6 656.4h0M268.4 657.7h0M268.5 661.0h0M268.5 664.9h0M268.5 667.0h0M268.5 669.1h0M268.4 672.9h0M268.3 675.6h0M329.2 674.3h0M329.2 677.2h0M328.9 680.5h0M328.9 683.5h0M329.1 685.2h0M330.2 678.3h0M330.1 679.4h0M330.1 683.4h0M330.2 687.7h0M330.0 689.4h0M331.2 678.2h0M331.2 679.7h0M331.3 682.9h0M331.1 685.9h0M331.0 690.8h0M331.1 692.2h0M332.3 676.1h0M332.3 678.9h0M332.0 682.5h0M332.2 683.8h0M332.4 687.8h0M332.2 689.9h0M333.2 678.3h0M333.1 680.4h0M333.1 682.2h0M333.1 687.3h0M333.1 688.6h0M333.4 691.5h0M333.0 694.2h0M334.4 680.5h0M334.3 681.3h0M334.4 686.1h0M334.4 688.4h0M334.4 691.8h0M334.4 693.0h0M335.5 677.0h0M335.4 680.8h0M335.1 682.7h0M335.4 686.7h0M335.2 690.6h0M335.5 693.2h0M335.3 694.5h0M336.4 680.3h0M336.2 683.1h0M336.3 684.7h0M336.5 687.6h0M336.5 690.2h0M336.2 693.2h0M336.4 695.9h0M337.3 678.1h0M337.4 679.8h0M337.5 684.4h0M337.4 684.8h0M337.5 688.3h0M337.3 692.1h0M338.4 676.1h0M338.4 679.3h0M338.3 682.0h0M338.5 684.5h0M338.5 686.1h0M338.6 691.2h0M339.4 679.6h0M339.4 681.8h0M339.6 688.4h0M340.6 680.0h0M340.7 682.9h0M341.6 674.9h0M341.7 679.2h0M342.5 678.8h0M342.5 683.2h0M343.8 679.5h0M343.5 682.1h0M344.8 678.3h0M344.7 680.4h0M345.5 677.8h0M345.9 682.8h0M346.9 679.2h0M346.7 682.8h0M347.8 679.2h0M347.8 679.7h0M348.9 678.0h0M349.0 681.2h0M348.7 682.3h0M350.0 677.8h0M349.8 679.3h0M349.9 681.1h0M350.9 676.0h0M350.9 678.3h0M351.1 681.8h0M351.0 682.2h0M351.9 670.9h0M351.9 673.3h0M351.9 676.5h0M352.0 679.5h0M351.9 682.6h0M353.1 672.2h0M353.1 674.7h0M352.8 678.2h0M353.1 682.3h0M353.1 683.6h0M354.1 671.4h0M354.1 674.0h0M354.2 676.6h0M353.9 679.7h0M354.2 682.5h0M355.2 669.7h0M355.2 673.5h0M354.9 676.5h0M355.1 679.2h0M355.0 683.7h0M356.1 666.5h0M356.3 669.3h0M356.2 672.7h0M356.2 676.9h0M357.3 670.5h0M357.2 671.4h0M357.1 674.1h0M358.2 669.7h0M358.0 671.1h0M359.3 667.6h0M359.2 669.6h0M360.3 670.3h0M360.2 672.1h0M361.2 669.9h0M361.5 670.8h0M362.2 672.7h0M362.3 673.0h0M363.2 672.6h0M363.5 673.6h0M364.5 677.4h0M364.3 677.7h0M365.5 682.4h0M365.3 683.0h0M366.5 682.6h0M366.6 683.6h0M367.7 684.0h0M367.6 684.7h0M368.5 686.4h0M368.6 686.7h0M369.7 683.9h0M369.6 684.5h0M370.6 683.5h0M370.7 684.1h0M371.8 685.1h0M371.9 685.2h0"/>
<polyline points="268.6,655.0 270.8,654.5 272.7,653.8 275.4,652.5 278.2,650.9 280.1,649.7 282.0,648.2 283.5,645.3 284.8,642.0 285.9,638.7 286.8,635.4 287.4,632.8 287.9,629.9 288.7,624.7 289.4,619.2 290.0,614.1 290.5,609.0 290.9,605.7 291.7,596.9 292.4,586.6 293.1,575.6 293.9,563.8 294.4,553.6 294.8,547.0 295.4,538.9 295.9,532.3 296.5,527.2 297.1,523.9 297.4,522.6 297.7,522.0 298.1,522.7 298.4,524.2 299.0,529.7 299.7,538.0 300.4,549.0 301.1,560.0 301.8,571.9 302.6,584.8 303.1,592.5 303.6,598.3 304.3,607.0 305.1,614.5 305.8,620.3 306.6,625.5 307.3,629.9 308.0,633.5 309.0,637.6 309.9,640.7 311.0,643.7 312.1,646.0 313.3,647.9 314.6,649.7 315.9,651.0 317.4,652.0 319.2,653.1 321.1,653.7 322.9,654.2 324.8,654.5 326.8,654.7" fill="none" stroke="#000" stroke-width="2.3" stroke-dasharray="7.5 3.2"/>
</g>
<g clip-path="url(#c4)">
<path stroke="#00f600" stroke-width="5.4" stroke-linecap="round" fill="none" d="M599.7 531.3h0M607.0 532.7h0M607.9 533.3h0M618.4 516.9h0M619.3 516.2h0M619.5 515.5h0M620.5 515.1h0M624.5 521.7h0M621.7 525.1h0M622.5 527.0h0M623.4 526.7h0M625.6 526.4h0M620.5 532.7h0M623.6 531.8h0M623.8 532.9h0M630.8 514.8h0M630.7 519.8h0M629.7 524.2h0M627.7 527.0h0M629.7 527.3h0M630.8 526.4h0M625.6 529.8h0M625.9 529.8h0M627.7 529.9h0M625.6 530.8h0M627.9 531.5h0M627.7 532.7h0M632.0 532.1h0M629.9 533.0h0M611.1 534.5h0M613.3 534.2h0M611.1 536.2h0M613.1 537.6h0M597.7 539.9h0M599.7 539.5h0M623.6 534.6h0M622.6 535.4h0M622.5 535.8h0M622.6 536.2h0M621.3 536.7h0M621.5 538.6h0M621.5 540.6h0M609.0 544.1h0M613.3 544.4h0M613.1 546.9h0M614.3 548.5h0M614.3 549.1h0M607.9 549.0h0M607.0 549.6h0M607.0 550.3h0M609.2 550.0h0M608.1 552.2h0M607.2 552.8h0M607.9 552.6h0M609.0 553.1h0M611.1 552.8h0M613.1 552.9h0M614.5 552.8h0M607.2 554.8h0M608.1 554.5h0M609.1 555.3h0M611.1 554.8h0M611.2 555.1h0M611.3 556.6h0M597.1 556.8h0M627.9 534.0h0M629.9 534.0h0M632.0 533.6h0M632.0 534.1h0M632.0 534.5h0M632.0 534.9h0M632.0 535.4h0M632.0 535.8h0M632.0 536.2h0M632.0 536.7h0M632.0 537.1h0M632.0 537.5h0M639.0 535.8h0M632.9 540.5h0M633.8 540.3h0M639.2 539.9h0M639.0 540.5h0M643.1 544.4h0M632.9 545.2h0M632.9 545.6h0M633.8 547.5h0M634.9 547.1h0M639.2 547.5h0M634.0 549.4h0M635.1 550.7h0M641.1 549.1h0M643.1 549.4h0M641.1 550.7h0M641.3 552.5h0M644.3 552.5h0M642.0 553.2h0M643.3 553.2h0M642.2 554.1h0M642.2 555.1h0M642.2 555.7h0M645.3 555.7h0M645.4 556.0h0M646.4 556.1h0M647.3 556.6h0M646.3 557.0h0M651.5 546.9h0M650.6 549.6h0M652.6 538.9h0M652.6 549.1h0M652.5 551.3h0M651.5 553.4h0M651.5 553.7h0M654.5 554.2h0M653.6 554.8h0M654.7 555.6h0M653.7 555.4h0M653.7 556.2h0M448.4 552.4h0M460.5 554.8h0M446.1 557.7h0M456.1 557.0h0M457.4 559.6h0M464.2 559.1h0M459.3 561.0h0M454.2 560.5h0M456.7 562.2h0M479.2 551.2h0M473.0 552.7h0M470.5 553.4h0M473.6 554.0h0M497.4 551.5h0M496.1 552.1h0M502.4 552.6h0M507.4 553.2h0M508.0 553.7h0M508.0 554.3h0M508.0 554.9h0M508.0 555.5h0M508.0 556.1h0M508.0 556.7h0M508.0 557.3h0M512.4 550.0h0M489.2 557.4h0M485.5 558.0h0M479.2 558.2h0M479.2 559.0h0M461.1 569.2h0M489.9 568.7h0M511.1 568.8h0M551.4 573.9h0M534.2 550.4h0M555.5 551.0h0M577.4 550.7h0M585.5 550.7h0M584.9 552.0h0M592.4 551.7h0M564.9 551.9h0M576.1 549.6h0M527.4 554.4h0M534.2 552.7h0M539.9 553.0h0M588.0 553.7h0M578.0 554.1h0M586.1 564.5h0M588.0 566.7h0M513.0 550.0h0M448.4 538.4h0M497.4 539.0h0M534.4 528.2h0M534.4 529.2h0M535.4 534.2h0M534.4 539.0h0M533.4 541.4h0M531.4 542.2h0M544.4 542.0h0M563.4 543.0h0M566.0 545.6h0M532.4 546.6h0M538.4 549.0h0M568.0 548.5h0M512.0 549.5h0M576.4 529.0h0M578.4 534.8h0M593.4 532.4h0M585.4 539.6h0M587.4 541.0h0M569.4 548.6h0M576.4 549.4h0M577.4 550.8h0M585.4 546.4h0M592.4 546.0h0M588.4 548.8h0M594.4 548.4h0M585.4 550.6h0M585.4 551.4h0M584.4 552.2h0M592.4 551.6h0M566.4 551.8h0M563.4 552.2h0M587.4 553.8h0M578.4 554.2h0M671.7 551.5h0M671.5 553.8h0M672.4 558.1h0M661.1 558.6h0M668.0 559.5h0M668.6 560.2h0M685.5 558.3h0M693.6 558.0h0M683.0 559.2h0M684.2 559.8h0M691.8 559.5h0M695.5 559.3h0M699.3 560.0h0M690.5 560.6h0M673.0 561.0h0M671.1 563.3h0M696.4 549.2h0M661.4 558.3h0M668.0 559.7h0M669.0 560.5h0M681.4 559.3h0M683.4 559.9h0M692.0 559.5h0M699.0 559.7h0M626.4 466.4h0M626.4 473.4h0M626.4 493.4h0M606.4 506.4h0M612.4 503.4h0M630.4 505.4h0M520.4 591.4h0M550.4 621.4h0M441.3 558.4h0M442.7 559.0h0M443.4 559.3h0M444.7 558.6h0M446.8 560.1h0M448.7 558.7h0M452.0 560.0h0M452.9 561.7h0M454.2 561.7h0M458.4 563.8h0M461.2 564.9h0M463.5 563.9h0M464.2 564.2h0M467.5 563.1h0M468.5 561.8h0M469.6 556.6h0M469.4 555.7h0M469.6 558.6h0M470.6 558.8h0M470.8 559.0h0M470.5 558.6h0M471.8 554.4h0M471.7 558.0h0M471.6 556.5h0M472.6 552.7h0M472.9 555.9h0M472.7 555.4h0M473.7 557.1h0M473.9 556.4h0M473.7 557.1h0M474.8 556.6h0M474.8 555.0h0M474.8 556.9h0M476.0 554.2h0M475.9 557.6h0M476.0 553.6h0M477.0 557.9h0M477.0 555.4h0M476.7 556.5h0M477.8 557.0h0M478.1 557.6h0M478.0 558.0h0M479.1 559.1h0M479.0 555.4h0M479.0 559.1h0M479.0 559.1h0M478.8 555.5h0M479.9 556.8h0M480.0 559.4h0M479.9 559.7h0M479.8 559.7h0M479.8 558.4h0M481.2 560.6h0M481.3 558.0h0M480.9 559.4h0M481.3 559.3h0M481.0 554.6h0M482.1 557.2h0M482.1 562.1h0M482.1 560.6h0M481.9 557.7h0M482.1 562.3h0M483.0 558.0h0M483.0 562.4h0M483.2 562.6h0M483.2 559.7h0M483.3 561.4h0M484.1 563.4h0M484.1 562.1h0M484.1 564.0h0M484.3 563.8h0M484.2 563.9h0M485.0 563.3h0M485.3 563.1h0M485.1 563.0h0M485.1 560.3h0M485.2 561.4h0M486.1 562.1h0M486.5 564.8h0M486.1 562.4h0M486.3 564.4h0M486.3 564.9h0M487.1 562.8h0M487.5 564.7h0M487.4 564.7h0M487.4 561.1h0M487.4 564.6h0M488.2 564.5h0M488.5 564.7h0M488.4 563.2h0M488.2 565.0h0M488.3 565.1h0M489.6 565.2h0M489.4 564.9h0M489.4 562.4h0M489.5 562.4h0M489.2 564.7h0M490.3 563.8h0M490.3 563.4h0M490.3 557.2h0M490.5 564.9h0M490.5 562.5h0M491.6 562.9h0M491.4 556.6h0M491.4 560.6h0M491.4 560.7h0M491.6 561.3h0M492.5 559.6h0M492.5 560.9h0M492.5 560.2h0M492.7 557.8h0M492.6 560.1h0M493.5 561.2h0M493.4 559.6h0M493.6 557.3h0M493.5 560.9h0M493.7 557.8h0M494.4 561.1h0M494.4 561.1h0M494.8 561.3h0M494.8 559.0h0M494.4 561.2h0M495.6 559.2h0M495.6 560.3h0M495.8 561.6h0M495.6 557.4h0M495.5 561.0h0M496.6 561.9h0M496.7 561.5h0M496.8 561.4h0M496.7 560.8h0M496.6 560.7h0M497.9 561.1h0M497.9 560.3h0M497.6 562.4h0M497.9 561.4h0M497.9 562.1h0M498.6 562.5h0M498.6 561.1h0M498.8 562.4h0M498.7 560.3h0M498.6 562.8h0M500.0 563.6h0M499.9 561.9h0M499.7 561.7h0M499.9 561.6h0M499.9 560.6h0M501.0 559.9h0M500.8 562.3h0M500.9 563.4h0M500.7 561.5h0M500.7 560.5h0M502.0 561.6h0M501.9 564.1h0M501.8 559.2h0M502.0 563.4h0M501.9 563.8h0M502.8 564.0h0M502.7 563.4h0M503.0 563.5h0M502.8 564.0h0M502.8 561.1h0M504.1 561.6h0M504.0 561.2h0M504.0 562.5h0M503.8 562.7h0M504.0 561.9h0M505.1 558.3h0M505.2 562.4h0M504.9 558.7h0M505.1 560.6h0M505.1 561.1h0M505.9 561.6h0M506.2 561.1h0M505.9 561.0h0M505.9 560.3h0M505.9 560.6h0M507.0 554.7h0M507.1 560.2h0M507.3 559.5h0M507.2 559.5h0M506.9 560.0h0M507.9 559.4h0M508.2 557.0h0M508.3 559.8h0M508.0 558.7h0M508.0 559.8h0M509.2 560.2h0M509.1 559.8h0M509.3 556.6h0M509.0 552.4h0M509.3 560.2h0M510.2 558.4h0M510.4 558.1h0M510.4 558.8h0M510.3 558.3h0M510.2 558.0h0M511.2 558.3h0M511.4 559.2h0M511.3 558.2h0M511.1 558.2h0M511.3 559.4h0M512.2 558.7h0M512.2 560.3h0M512.2 559.0h0M512.4 560.5h0M512.2 559.3h0M513.4 560.0h0M513.5 559.0h0M513.5 560.5h0M513.4 557.7h0M513.2 559.5h0M514.4 559.8h0M514.2 556.9h0M514.2 560.7h0M514.3 561.0h0M514.4 556.8h0M515.6 560.1h0M515.3 555.9h0M515.4 559.2h0M515.4 559.4h0M515.4 560.6h0M516.6 558.6h0M516.3 556.7h0M516.6 557.1h0M516.3 559.7h0M516.6 558.7h0M517.7 550.4h0M517.6 558.6h0M517.3 559.9h0M517.3 560.6h0M517.3 559.2h0M518.4 559.2h0M518.5 559.5h0M518.7 560.3h0M518.5 557.4h0M518.4 559.4h0M519.5 558.5h0M519.4 559.2h0M519.7 554.3h0M519.7 559.4h0M519.6 554.8h0M520.4 557.5h0M520.6 559.0h0M520.7 558.3h0M520.6 557.2h0M520.6 558.3h0M521.8 558.8h0M521.8 559.0h0M521.7 559.4h0M521.8 559.5h0M521.7 558.3h0M522.8 558.2h0M522.6 555.2h0M522.8 557.5h0M522.8 558.7h0M522.6 557.8h0M523.8 557.2h0M523.8 557.4h0M523.8 558.9h0M523.7 557.0h0M523.7 557.5h0M524.9 558.0h0M524.7 558.9h0M524.6 556.5h0M524.8 558.5h0M524.8 559.0h0M525.8 558.2h0M525.9 559.5h0M525.8 557.8h0M525.8 559.8h0M525.9 554.8h0M526.7 559.3h0M526.8 558.7h0M526.7 556.5h0M526.7 559.5h0M526.6 559.7h0M527.9 558.7h0M527.8 559.8h0M528.1 559.3h0M528.0 558.6h0M527.9 559.2h0M528.9 558.9h0M528.9 557.9h0M529.1 558.4h0M528.8 558.1h0M529.0 560.0h0M529.8 560.6h0M530.1 559.4h0M530.0 558.4h0M530.0 560.2h0M529.9 560.4h0M531.1 560.4h0M530.9 559.8h0M531.1 560.3h0M530.9 560.2h0M531.1 559.9h0M532.2 559.9h0M532.2 560.9h0M531.9 560.6h0M532.0 561.1h0M531.8 558.9h0M533.0 559.6h0M533.2 560.6h0M532.9 560.1h0M533.0 559.1h0M532.9 558.8h0M534.0 555.8h0M534.0 560.4h0M534.2 560.8h0M534.0 560.8h0M534.3 558.9h0M535.2 560.1h0M535.3 559.9h0M535.1 559.7h0M535.3 557.8h0M535.2 559.2h0M536.0 558.8h0M536.4 559.4h0M536.2 557.6h0M536.1 557.6h0M536.2 556.6h0M537.4 558.9h0M537.0 559.4h0M537.4 557.5h0M537.1 559.3h0M537.4 558.1h0M538.2 557.8h0M538.4 559.1h0M538.1 559.0h0M538.4 556.2h0M538.4 559.4h0M539.3 553.0h0M539.3 556.6h0M539.2 559.3h0M539.3 559.0h0M539.5 558.1h0M540.4 557.8h0M540.2 559.7h0M540.5 559.3h0M540.5 558.2h0M540.5 558.3h0M541.2 559.2h0M541.5 558.1h0M541.4 559.1h0M541.5 559.0h0M541.6 559.4h0M542.6 557.5h0M542.2 559.3h0M542.5 552.9h0M542.3 559.9h0M542.4 560.1h0M543.5 559.9h0M543.6 559.8h0M543.5 559.0h0M543.7 559.6h0M543.3 555.2h0M544.6 560.6h0M544.5 560.3h0M544.4 560.0h0M544.4 556.9h0M544.5 560.8h0M545.6 559.2h0M545.4 560.7h0M545.4 560.4h0M545.4 561.4h0M545.5 561.6h0M546.5 559.5h0M546.5 559.9h0M546.4 561.9h0M546.5 561.5h0M546.5 561.8h0M547.6 561.8h0M547.8 561.9h0M547.6 561.6h0M547.5 561.1h0M547.8 562.2h0M548.5 563.5h0M548.5 560.7h0M548.7 558.5h0M548.8 563.4h0M548.7 561.0h0M549.6 560.4h0M549.5 562.6h0M549.7 559.6h0M549.9 561.8h0M549.5 561.1h0M550.7 559.0h0M550.8 559.6h0M550.8 560.8h0M550.6 561.4h0M550.5 559.9h0M551.6 558.2h0M551.6 561.0h0M551.6 559.9h0M551.8 561.0h0M551.7 558.8h0M552.9 561.0h0M553.0 560.3h0M553.0 559.9h0M553.0 559.5h0M552.7 552.4h0M553.9 560.9h0M553.9 560.5h0M553.7 561.0h0M553.8 560.0h0M553.9 560.4h0M555.0 558.7h0M555.0 555.5h0M554.9 560.0h0M554.9 557.7h0M555.1 558.4h0M555.9 560.2h0M555.9 556.6h0M555.8 558.2h0M555.8 559.7h0M556.0 558.5h0M556.8 559.5h0M557.0 557.9h0M557.0 559.0h0M557.0 554.3h0M557.1 559.6h0M557.9 560.0h0M558.0 560.0h0M558.0 559.8h0M558.0 559.1h0M558.2 559.7h0M559.2 558.2h0M559.1 558.6h0M559.2 559.3h0M559.1 559.5h0M559.2 556.9h0M560.3 556.2h0M560.0 556.8h0M560.0 554.7h0M560.2 557.9h0M560.2 558.9h0M561.1 558.7h0M561.3 556.8h0M561.4 558.7h0M561.1 558.4h0M561.3 553.1h0M562.2 556.8h0M562.3 555.8h0M562.2 553.9h0M562.1 557.9h0M562.0 554.7h0M563.2 555.3h0M563.3 554.2h0M563.1 557.2h0M563.0 555.6h0M564.3 555.4h0M564.5 554.5h0M564.5 552.2h0M564.1 555.9h0M564.4 551.1h0M565.4 558.0h0M565.3 558.2h0M565.4 555.2h0M565.4 556.1h0M565.3 556.6h0M566.3 555.0h0M566.4 558.3h0M566.2 558.2h0M566.4 557.5h0M566.1 556.6h0M567.4 558.3h0M567.5 557.5h0M567.2 555.1h0M567.2 558.6h0M567.5 557.0h0M568.5 558.1h0M568.5 558.3h0M568.2 558.3h0M568.4 555.5h0M568.2 558.7h0M569.4 552.2h0M569.6 558.8h0M569.3 558.7h0M569.6 559.3h0M569.6 558.3h0M570.7 555.0h0M570.7 559.5h0M570.6 554.5h0M570.5 551.7h0M570.3 557.0h0M571.4 559.3h0M571.5 559.4h0M571.5 557.2h0M571.7 557.7h0M571.7 559.1h0M572.4 559.9h0M572.6 558.6h0M572.6 555.1h0M572.7 559.9h0M572.5 559.7h0M573.4 559.3h0M573.8 559.2h0M573.8 558.8h0M573.7 559.0h0M573.8 558.4h0M574.6 560.2h0M574.6 560.1h0M574.5 560.5h0M574.7 559.2h0M574.5 557.6h0M575.7 559.3h0M575.6 559.4h0M575.9 559.9h0M575.6 559.6h0M575.9 559.4h0M577.0 556.0h0M576.8 560.1h0M576.9 556.6h0M576.9 559.9h0M576.9 560.7h0M577.9 560.3h0M577.9 560.3h0M577.7 559.5h0M577.8 560.3h0M577.6 560.0h0M578.9 560.4h0M578.8 560.3h0M579.0 560.6h0M578.7 560.9h0M578.8 559.8h0M579.7 559.8h0M579.8 560.2h0M580.1 560.1h0M579.7 559.3h0M579.9 559.3h0M580.9 560.6h0M581.0 555.9h0M581.0 558.4h0M581.0 558.4h0M581.0 558.3h0M582.1 558.7h0M582.1 559.0h0M581.9 559.9h0M582.0 560.0h0M582.1 560.4h0M583.1 558.5h0M582.9 558.7h0M583.1 559.2h0M583.2 560.5h0M582.9 559.2h0M583.9 558.7h0M584.2 558.6h0M584.0 559.7h0M584.0 559.5h0M583.9 559.3h0M584.9 559.2h0M584.9 559.0h0M585.3 558.3h0M585.1 554.7h0M585.0 558.0h0M586.0 558.7h0M585.9 556.1h0M586.1 558.3h0M586.1 556.2h0M586.1 558.5h0M587.3 559.2h0M587.0 557.4h0M587.1 558.4h0M587.2 556.5h0M587.0 558.4h0M588.2 558.8h0M588.2 558.3h0M588.2 556.9h0M588.1 559.2h0M588.3 556.6h0M589.0 557.5h0M589.3 558.7h0M589.4 558.4h0M589.2 557.9h0M589.4 559.0h0M590.4 558.8h0M590.4 557.9h0M590.3 556.8h0M590.4 554.0h0M590.3 558.1h0M591.3 558.3h0M591.4 559.1h0M591.3 558.7h0M591.2 559.4h0M591.1 559.0h0M592.2 558.4h0M592.5 558.6h0M592.5 557.2h0M592.4 558.7h0M592.3 557.4h0M593.4 559.0h0M593.3 557.9h0M593.3 558.9h0M593.3 558.6h0M593.6 556.8h0M594.2 559.4h0M594.5 554.3h0M594.4 557.0h0M594.5 558.3h0M594.5 558.9h0M595.3 557.8h0M595.6 559.0h0M595.5 558.4h0M595.5 557.6h0M595.5 557.2h0M596.7 558.5h0M596.6 559.6h0M596.3 559.7h0M596.3 558.5h0M596.4 559.6h0M657.0 557.4h0M659.3 561.8h0M660.3 558.0h0M661.5 560.4h0M662.3 561.5h0M663.4 562.0h0M665.3 559.7h0M666.5 561.7h0M667.7 560.2h0M668.7 561.1h0M669.7 560.5h0M671.8 559.3h0M674.9 562.3h0M675.8 561.2h0M676.9 561.3h0M677.9 560.9h0M679.2 560.9h0M680.2 555.3h0M681.2 560.6h0M684.2 559.0h0M685.2 557.9h0M686.4 558.1h0M687.5 559.8h0M688.2 560.2h0M690.3 559.6h0M691.3 560.2h0M695.8 563.2h0M697.6 562.3h0M698.6 562.5h0"/>
<path stroke="#0000de" stroke-width="5.4" stroke-linecap="round" fill="none" d="M630.1 532.0h0M630.3 533.3h0M627.1 533.5h0M624.9 535.4h0M625.0 536.7h0M624.1 537.3h0M623.0 537.6h0M624.0 538.7h0M624.0 540.5h0M622.8 540.6h0M621.0 542.7h0M620.8 545.3h0M621.0 545.8h0M619.9 548.0h0M618.7 548.4h0M619.9 548.8h0M618.7 549.1h0M618.0 550.6h0M618.9 551.1h0M617.8 552.2h0M616.9 553.1h0M616.6 553.8h0M617.1 553.6h0M615.8 555.1h0M614.8 555.4h0M616.8 555.4h0M613.6 556.3h0M612.8 557.2h0M614.6 556.8h0M615.5 556.0h0M613.8 557.9h0M630.3 536.8h0M629.2 537.3h0M630.1 538.1h0M629.2 538.6h0M629.2 539.0h0M629.0 540.5h0M635.3 549.9h0M634.4 550.6h0M634.3 551.6h0M634.4 552.1h0M636.4 552.4h0M635.2 552.9h0M636.5 553.2h0M635.4 554.1h0M636.3 554.7h0M637.6 555.4h0M637.4 555.8h0M638.5 557.0h0M638.5 557.4h0M637.6 556.8h0M640.4 557.0h0M639.5 557.9h0M638.6 558.5h0M642.6 557.0h0M642.6 557.4h0M642.6 557.8h0M645.7 557.6h0M645.5 559.2h0M640.5 559.5h0M651.0 552.8h0M646.7 557.5h0M646.7 558.0h0M646.8 558.6h0M651.9 556.5h0M651.9 557.3h0M653.0 556.6h0M653.0 557.0h0M652.8 557.8h0M652.9 558.6h0M650.8 558.2h0M650.7 558.6h0M654.0 559.2h0M648.7 559.4h0M653.9 560.0h0M647.9 560.2h0M600.3 557.1h0M604.2 556.5h0M605.2 557.0h0M606.6 557.3h0M607.6 556.5h0M608.4 557.0h0M609.6 557.9h0M597.9 558.5h0M598.3 558.9h0M599.1 558.4h0M607.2 557.8h0M601.3 560.0h0M611.3 559.2h0M598.0 559.5h0M599.2 559.2h0M604.3 557.6h0M605.4 558.0h0M608.6 558.0h0M610.6 558.7h0M611.6 558.9h0M612.6 558.3h0M645.5 562.3h0M654.9 560.7h0M654.7 561.7h0M598.1 558.3h0M599.3 559.0h0M600.1 559.6h0M601.3 558.1h0M604.2 558.4h0M605.2 559.6h0M606.3 558.6h0M607.4 559.3h0M608.5 559.8h0M609.6 559.8h0M610.5 559.5h0M611.4 558.9h0M612.6 559.2h0M613.6 558.9h0M614.5 559.6h0M615.8 558.7h0M447.4 558.8h0M451.1 560.2h0M463.6 560.5h0M462.4 563.6h0M472.4 556.7h0M498.6 558.0h0M508.6 558.0h0M493.6 560.0h0M504.3 559.5h0M484.3 568.8h0M469.2 565.0h0M490.5 566.7h0M476.7 563.0h0M501.7 562.2h0M453.6 562.2h0M538.0 558.2h0M535.0 558.5h0M541.0 558.8h0M561.8 556.2h0M569.9 557.8h0M589.3 555.4h0M573.0 564.7h0M518.6 563.2h0M545.5 561.5h0M585.5 559.5h0M549.3 568.1h0M453.4 544.0h0M515.4 572.7h0M657.4 572.9h0M675.4 568.9h0M697.4 564.1h0M573.4 564.7h0M676.5 557.1h0M661.7 559.7h0M529.4 433.4h0M487.4 592.4h0M467.4 744.4h0M441.7 561.0h0M441.5 560.9h0M442.7 559.7h0M442.5 559.7h0M443.6 561.3h0M443.6 560.4h0M444.8 561.5h0M444.9 560.8h0M444.8 559.9h0M445.7 560.8h0M445.9 561.1h0M445.9 559.5h0M447.0 560.8h0M446.8 561.1h0M447.7 561.1h0M447.7 561.9h0M449.1 561.2h0M449.1 561.8h0M450.1 561.4h0M450.0 562.1h0M451.0 561.5h0M451.1 561.8h0M452.0 562.5h0M452.2 561.9h0M453.0 563.1h0M453.1 563.1h0M453.1 561.6h0M453.9 563.6h0M454.0 564.0h0M455.3 564.0h0M455.0 563.4h0M456.4 564.5h0M456.2 564.9h0M457.3 565.8h0M457.1 564.7h0M458.3 565.2h0M458.4 564.9h0M459.3 565.7h0M459.2 566.5h0M460.4 565.6h0M460.2 566.7h0M461.3 566.8h0M461.6 566.5h0M462.6 566.1h0M462.4 565.1h0M463.5 566.0h0M463.5 566.5h0M464.4 564.9h0M464.4 565.7h0M465.6 564.9h0M465.5 565.3h0M466.7 564.9h0M466.4 564.6h0M466.5 563.7h0M467.6 563.9h0M467.8 564.3h0M468.5 563.8h0M468.5 562.9h0M469.7 561.4h0M469.7 563.0h0M470.9 560.4h0M470.7 559.7h0M471.8 559.7h0M471.9 559.2h0M472.8 558.2h0M472.9 557.6h0M473.9 557.6h0M474.0 558.3h0M475.0 558.8h0M474.7 558.4h0M476.0 558.3h0M476.0 559.0h0M477.1 559.3h0M477.1 559.1h0M477.9 559.5h0M478.1 558.9h0M479.1 561.4h0M478.9 561.4h0M478.9 559.4h0M480.1 561.7h0M480.1 560.5h0M481.3 562.3h0M481.2 562.4h0M481.0 560.6h0M482.2 564.1h0M482.1 562.8h0M483.3 563.2h0M483.2 563.8h0M484.3 564.8h0M484.1 565.7h0M485.3 565.5h0M485.1 564.3h0M486.4 565.4h0M486.3 565.6h0M486.4 564.6h0M487.4 566.7h0M487.4 566.3h0M488.3 566.4h0M488.4 565.9h0M488.3 564.5h0M489.3 566.6h0M489.5 567.3h0M490.6 565.5h0M490.5 565.5h0M491.4 564.6h0M491.5 563.8h0M492.6 562.1h0M492.5 561.9h0M492.6 560.8h0M493.5 561.9h0M493.5 561.9h0M494.7 561.7h0M494.6 562.7h0M494.7 560.9h0M495.6 562.8h0M495.7 563.0h0M496.7 563.4h0M496.7 563.1h0M497.6 563.8h0M497.7 563.5h0M498.7 564.1h0M498.8 564.4h0M499.8 564.0h0M499.8 565.3h0M500.8 564.2h0M500.8 564.9h0M500.8 563.6h0M502.0 564.5h0M502.0 565.5h0M502.9 565.1h0M503.1 564.3h0M503.0 563.7h0M504.0 563.9h0M504.0 564.0h0M504.9 563.9h0M505.1 563.3h0M506.1 563.1h0M506.0 562.2h0M507.1 560.9h0M507.3 561.9h0M508.0 560.7h0M508.3 560.1h0M509.3 561.0h0M509.3 562.0h0M509.2 560.0h0M510.3 560.1h0M510.2 560.3h0M511.4 560.7h0M511.4 559.9h0M512.4 560.8h0M512.2 561.1h0M513.5 561.2h0M513.4 561.6h0M514.5 562.5h0M514.5 561.5h0M515.5 562.1h0M515.4 561.4h0M516.4 561.0h0M516.5 560.8h0M516.5 560.1h0M517.5 562.0h0M517.5 562.2h0M518.5 560.9h0M518.6 561.2h0M519.5 561.1h0M519.8 560.5h0M520.7 560.7h0M520.5 559.4h0M521.8 560.4h0M521.6 560.6h0M522.6 559.7h0M522.6 560.1h0M524.0 559.4h0M523.6 560.5h0M525.0 560.3h0M524.9 560.9h0M525.8 561.2h0M525.8 559.9h0M526.7 560.7h0M527.1 561.3h0M527.8 560.7h0M528.1 560.6h0M529.1 560.8h0M529.1 561.0h0M530.1 561.6h0M530.2 562.1h0M530.9 561.1h0M530.9 561.8h0M532.0 561.6h0M532.2 562.3h0M533.2 562.3h0M533.1 561.0h0M534.1 561.1h0M534.0 561.6h0M534.3 560.1h0M535.1 561.1h0M535.1 561.6h0M536.2 560.3h0M536.2 560.7h0M537.2 560.5h0M537.2 561.1h0M538.4 560.8h0M538.3 560.7h0M539.5 561.1h0M539.4 560.4h0M540.5 560.5h0M540.3 560.5h0M541.3 559.7h0M541.6 561.1h0M541.6 558.9h0M542.7 561.5h0M542.7 561.2h0M543.4 561.0h0M543.7 561.9h0M543.7 560.1h0M544.6 562.0h0M544.4 562.0h0M545.7 561.9h0M545.7 561.8h0M546.6 563.5h0M546.8 563.8h0M546.6 561.6h0M547.6 563.8h0M547.8 563.1h0M548.9 564.6h0M548.7 565.1h0M549.8 563.9h0M550.0 563.7h0M550.7 562.3h0M550.8 562.5h0M551.9 562.1h0M551.8 562.5h0M553.1 562.9h0M552.9 562.0h0M554.1 561.4h0M554.0 562.4h0M555.0 561.3h0M555.0 560.7h0M556.0 561.0h0M555.9 562.5h0M557.2 559.9h0M557.2 561.0h0M557.2 559.4h0M558.2 560.3h0M558.0 561.2h0M559.2 561.0h0M559.2 561.2h0M560.3 559.9h0M560.3 559.5h0M561.4 559.7h0M561.4 560.5h0M562.4 558.6h0M562.2 559.5h0M563.2 557.5h0M563.2 559.0h0M564.5 559.0h0M564.5 558.5h0M565.4 558.5h0M565.5 558.5h0M566.5 560.0h0M566.4 560.0h0M566.3 557.7h0M567.4 560.3h0M567.4 559.9h0M567.5 558.3h0M568.3 559.9h0M568.5 560.1h0M569.6 559.7h0M569.4 560.5h0M569.7 558.6h0M570.5 560.9h0M570.5 560.1h0M570.5 558.8h0M571.5 560.5h0M571.7 560.1h0M572.6 561.0h0M572.6 560.5h0M573.9 560.5h0M573.8 560.8h0M574.8 561.2h0M574.8 562.1h0M575.7 561.7h0M575.8 561.7h0M576.7 561.8h0M576.9 561.2h0M577.7 561.4h0M578.0 562.4h0M579.0 561.9h0M579.0 562.4h0M580.1 561.9h0M580.0 561.1h0M581.1 561.5h0M581.0 562.6h0M582.0 560.8h0M582.0 561.0h0M582.0 559.9h0M582.9 562.0h0M583.1 561.6h0M584.1 561.2h0M584.2 561.0h0M585.2 560.0h0M585.3 560.3h0M586.4 560.0h0M586.1 560.7h0M587.2 560.8h0M587.2 559.8h0M587.2 558.9h0M588.1 559.6h0M588.3 561.0h0M589.3 559.6h0M589.4 560.3h0M590.3 559.7h0M590.3 560.6h0M591.3 559.9h0M591.5 559.7h0M592.5 560.0h0M592.3 559.8h0M593.3 561.2h0M593.6 559.9h0M593.3 559.3h0M594.5 559.9h0M594.6 560.7h0M595.5 559.8h0M595.4 560.0h0M596.7 560.9h0M596.4 561.0h0M657.3 564.0h0M658.4 561.6h0M659.2 561.8h0M660.4 563.5h0M661.3 562.8h0M662.3 564.8h0M663.6 562.9h0M663.5 562.4h0M664.4 562.3h0M665.5 564.8h0M665.6 564.3h0M666.5 563.6h0M667.4 562.5h0M667.6 564.5h0M668.7 563.5h0M668.5 562.5h0M669.6 562.8h0M670.6 564.6h0M670.7 563.5h0M671.9 563.2h0M672.7 563.9h0M672.8 564.7h0M673.9 563.2h0M674.9 562.5h0M675.9 563.7h0M676.0 562.1h0M677.1 562.6h0M678.0 564.2h0M679.0 562.3h0M680.2 562.0h0M681.2 561.6h0M681.3 562.3h0M682.0 562.5h0M683.3 560.7h0M683.2 562.8h0M684.3 560.0h0M685.5 563.0h0M686.4 562.2h0M686.4 560.5h0M687.4 561.3h0M688.5 562.7h0M689.5 561.4h0M690.5 562.8h0M691.6 561.2h0M692.5 562.5h0M693.4 564.7h0M693.7 563.5h0M694.5 565.1h0M695.8 564.7h0M695.8 563.8h0M696.6 565.8h0M697.8 565.9h0M697.6 565.2h0M698.8 566.0h0M699.8 566.3h0M699.8 566.1h0"/>
<path stroke="#df6bd2" stroke-width="5.4" stroke-linecap="round" fill="none" d="M629.4 531.5h0M653.2 532.4h0M653.2 540.2h0M653.2 543.8h0M653.2 555.4h0M603.7 551.5h0M602.5 552.5h0M602.5 554.1h0M602.5 554.5h0M603.7 554.7h0M602.7 555.5h0M602.4 555.8h0M602.5 557.2h0M603.7 557.0h0M622.1 538.6h0M623.0 538.6h0M622.1 539.7h0M623.4 539.9h0M622.3 541.4h0M621.2 542.1h0M623.2 542.2h0M623.2 542.7h0M623.2 543.1h0M621.2 542.8h0M622.1 542.5h0M622.1 543.1h0M621.0 543.8h0M621.0 544.3h0M620.2 544.7h0M620.0 545.9h0M620.2 546.5h0M620.0 546.9h0M620.0 547.4h0M619.1 548.5h0M618.9 549.9h0M618.0 551.5h0M617.1 552.0h0M617.0 552.7h0M619.1 552.5h0M618.2 553.2h0M618.0 553.9h0M618.9 554.7h0M616.8 554.7h0M615.9 555.2h0M619.0 550.0h0M618.1 551.6h0M616.1 555.9h0M613.8 557.0h0M611.7 557.6h0M614.8 557.3h0M616.0 557.3h0M616.0 557.8h0M615.0 558.1h0M619.1 557.4h0M612.7 557.9h0M611.8 558.3h0M626.2 534.0h0M627.5 534.9h0M626.4 535.8h0M627.1 535.9h0M626.2 536.4h0M626.2 537.4h0M626.4 538.4h0M626.4 539.3h0M627.3 539.5h0M627.3 540.2h0M630.5 538.6h0M630.5 538.9h0M630.5 540.0h0M629.4 540.3h0M630.5 540.8h0M630.5 541.5h0M633.5 544.7h0M634.4 554.2h0M634.4 554.7h0M634.6 555.8h0M634.6 556.2h0M635.6 555.5h0M635.4 556.1h0M635.7 556.7h0M636.5 557.1h0M636.6 557.7h0M637.0 557.0h0M640.7 558.3h0M639.7 558.7h0M640.8 559.4h0M642.9 559.3h0M643.9 559.2h0M639.7 560.3h0M641.7 560.0h0M642.8 559.9h0M643.8 560.0h0M644.8 560.0h0M640.6 560.3h0M647.1 556.2h0M653.1 555.4h0M648.9 558.9h0M650.0 559.2h0M651.2 558.9h0M652.1 558.7h0M649.2 559.6h0M650.1 559.8h0M651.3 559.9h0M652.1 559.9h0M654.4 559.8h0M654.4 560.1h0M646.9 559.8h0M645.9 560.2h0M597.5 563.3h0M597.5 563.8h0M597.6 564.3h0M601.5 561.1h0M602.5 560.8h0M604.7 560.4h0M606.7 560.4h0M608.0 560.4h0M608.8 560.8h0M610.9 560.9h0M611.8 561.0h0M613.9 561.8h0M614.9 560.5h0M639.8 561.4h0M648.1 561.1h0M650.1 560.8h0M652.2 561.2h0M648.0 563.2h0M651.1 562.9h0M654.1 563.0h0M645.9 566.5h0M655.0 562.5h0M644.9 560.9h0M641.9 560.7h0M597.3 561.8h0M597.6 561.6h0M597.4 561.4h0M597.2 561.2h0M597.4 560.9h0M597.2 560.8h0M597.2 560.4h0M597.5 560.4h0M597.6 559.9h0M597.4 559.8h0M597.2 559.7h0M597.4 559.4h0M598.3 561.3h0M598.4 560.9h0M598.6 560.6h0M598.5 560.3h0M598.5 560.0h0M598.3 559.6h0M598.6 559.3h0M598.5 559.2h0M598.3 558.9h0M598.2 558.4h0M599.6 559.8h0M599.7 559.4h0M599.2 559.3h0M599.6 559.0h0M599.7 558.7h0M599.2 558.4h0M599.6 558.2h0M599.2 558.0h0M599.7 557.6h0M600.4 560.0h0M600.3 559.6h0M600.3 559.4h0M600.5 559.2h0M600.6 558.9h0M600.5 558.7h0M600.4 558.4h0M600.4 557.9h0M600.6 557.8h0M600.7 557.5h0M601.7 559.7h0M601.3 559.2h0M601.4 559.1h0M601.6 558.7h0M601.4 558.4h0M601.3 557.8h0M604.7 560.1h0M604.6 559.7h0M604.6 559.5h0M604.8 559.3h0M604.5 558.9h0M604.8 558.8h0M604.5 558.4h0M604.8 558.3h0M604.8 557.8h0M604.7 557.7h0M605.4 559.9h0M605.5 559.7h0M605.5 559.4h0M605.7 559.3h0M605.5 558.9h0M605.4 558.7h0M605.7 558.3h0M605.7 558.2h0M605.9 557.9h0M605.4 557.6h0M606.5 560.1h0M606.6 559.8h0M606.5 559.5h0M606.9 559.1h0M606.8 558.9h0M606.7 558.8h0M606.5 558.6h0M606.9 558.1h0M606.9 558.1h0M606.8 557.7h0M607.6 560.0h0M607.5 559.9h0M607.8 559.5h0M607.8 559.3h0M607.9 559.0h0M607.7 558.8h0M607.9 558.5h0M607.7 558.3h0M607.9 558.1h0M607.8 557.9h0M608.8 560.3h0M608.8 559.8h0M608.9 559.6h0M608.7 559.3h0M608.8 559.1h0M608.9 559.0h0M608.9 558.7h0M608.8 558.3h0M608.6 558.0h0M609.9 560.2h0M609.7 560.1h0M609.7 559.7h0M609.7 559.6h0M610.0 559.2h0M609.8 558.9h0M609.7 558.7h0M609.7 558.6h0M609.9 558.2h0M610.8 560.2h0M610.7 560.1h0M610.8 559.7h0M611.0 559.5h0M611.1 559.3h0M610.7 559.0h0M610.7 558.8h0M610.8 558.5h0M611.8 560.3h0M612.1 560.2h0M611.7 560.0h0M612.1 559.8h0M612.0 559.5h0M611.8 559.2h0M611.6 559.1h0M611.8 558.9h0M612.8 560.5h0M612.7 560.1h0M612.9 559.9h0M613.0 559.6h0M613.1 559.4h0M612.8 559.3h0M612.8 559.1h0M612.9 558.8h0M613.8 560.4h0M614.0 560.1h0M614.0 559.9h0M613.9 559.6h0M614.1 559.6h0M614.2 559.2h0M613.8 559.0h0M614.0 558.7h0M615.0 560.2h0M615.1 559.9h0M615.0 559.8h0M614.8 559.5h0M615.1 559.3h0M615.1 559.2h0M615.2 558.8h0M616.0 559.1h0M615.9 558.8h0M639.8 561.1h0M639.8 560.2h0M641.0 560.3h0M640.7 559.8h0M641.7 559.8h0M641.8 560.6h0M643.1 561.0h0M642.8 560.3h0M644.1 559.7h0M644.1 559.5h0M645.0 559.5h0M644.8 560.8h0M646.1 560.7h0M646.2 560.1h0M647.1 559.7h0M647.1 560.6h0M648.1 559.7h0M648.3 560.8h0M649.3 559.5h0M649.2 560.2h0M650.1 560.2h0M650.2 560.1h0M651.0 559.5h0M651.2 560.5h0M652.4 560.2h0M652.3 560.0h0M653.1 560.2h0M653.3 559.5h0M654.5 560.7h0M654.3 561.0h0M428.0 562.7h0M426.1 563.5h0M429.9 563.3h0M434.2 563.2h0M433.0 564.2h0M426.8 564.0h0M430.5 563.8h0M438.6 561.0h0M453.6 556.1h0M461.8 562.5h0M480.5 568.1h0M487.4 567.8h0M458.6 568.1h0M499.2 567.7h0M527.4 566.0h0M521.7 557.7h0M528.6 558.1h0M566.7 552.7h0M584.2 553.2h0M584.2 557.5h0M545.5 569.3h0M525.4 545.4h0M587.4 547.8h0M566.4 552.8h0M584.4 553.2h0M464.6 569.7h0M480.4 568.1h0M489.4 571.3h0M499.4 567.7h0M527.4 565.9h0M538.4 570.3h0M545.4 569.5h0M545.4 570.7h0M565.4 570.1h0M565.4 571.9h0M525.4 576.9h0M565.4 580.1h0M515.4 567.1h0M575.4 572.1h0M659.4 576.1h0M669.4 569.9h0M659.4 568.2h0M663.0 567.9h0M660.0 569.4h0M664.0 569.0h0M663.4 570.7h0M659.4 570.0h0M676.1 559.1h0M628.4 488.4h0M524.4 596.4h0M554.4 595.4h0M441.6 559.6h0M441.5 559.6h0M442.6 559.5h0M442.6 559.6h0M443.7 559.9h0M443.7 560.0h0M444.7 560.8h0M444.5 561.2h0M445.7 560.3h0M445.8 561.0h0M446.6 560.3h0M446.8 561.3h0M447.7 560.8h0M447.7 561.2h0M447.7 562.1h0M448.8 561.0h0M448.6 561.5h0M448.6 561.8h0M448.7 562.6h0M449.8 561.4h0M449.7 561.7h0M449.7 562.0h0M449.9 562.9h0M450.8 561.6h0M450.9 562.5h0M451.0 562.8h0M450.9 563.7h0M452.0 562.1h0M452.0 562.5h0M451.9 563.5h0M452.0 564.2h0M453.0 562.3h0M453.0 562.8h0M453.0 563.5h0M452.7 564.0h0M452.9 564.2h0M454.0 563.3h0M454.1 563.7h0M453.9 564.1h0M453.9 564.8h0M454.1 565.3h0M454.9 563.8h0M455.0 564.1h0M455.2 565.0h0M455.0 565.9h0M455.9 564.4h0M456.2 564.9h0M456.2 565.6h0M456.1 566.6h0M456.9 564.6h0M457.1 565.2h0M457.2 565.6h0M456.9 566.4h0M457.0 566.8h0M458.2 564.7h0M458.2 565.0h0M458.1 565.7h0M458.0 566.4h0M459.3 565.1h0M459.2 565.9h0M459.2 566.7h0M459.3 567.1h0M460.3 565.5h0M460.1 566.4h0M460.2 566.7h0M460.1 567.3h0M461.3 565.5h0M461.4 566.6h0M461.1 567.0h0M462.1 564.9h0M462.1 565.7h0M462.3 566.2h0M463.2 565.3h0M463.2 566.2h0M464.2 565.2h0M464.4 565.9h0M464.4 566.1h0M465.6 564.8h0M465.3 565.6h0M465.6 565.8h0M465.5 566.7h0M466.5 564.4h0M466.6 565.0h0M466.5 565.7h0M467.5 563.7h0M467.5 564.8h0M467.5 565.1h0M467.3 565.5h0M468.7 562.8h0M468.6 563.6h0M468.7 564.0h0M468.6 564.4h0M468.6 565.1h0M469.6 561.5h0M469.4 562.4h0M469.6 562.7h0M469.6 563.7h0M469.7 564.0h0M469.4 564.3h0M469.5 565.4h0M470.6 559.3h0M470.6 560.0h0M470.5 560.4h0M470.6 561.0h0M470.6 562.0h0M470.5 562.6h0M470.6 562.7h0M470.6 563.5h0M470.6 564.0h0M471.7 558.7h0M471.5 559.2h0M471.5 560.0h0M471.6 560.3h0M471.5 560.9h0M471.6 561.5h0M471.7 562.2h0M471.7 562.9h0M472.5 557.9h0M472.5 558.2h0M472.8 558.9h0M472.7 559.8h0M472.6 560.0h0M473.7 557.8h0M473.9 558.5h0M473.9 558.9h0M473.6 559.5h0M473.7 560.1h0M473.9 560.2h0M474.6 558.0h0M474.8 558.8h0M474.6 558.9h0M474.8 559.4h0M474.6 560.3h0M474.7 560.8h0M474.9 561.3h0M475.9 558.3h0M475.8 558.8h0M475.7 559.5h0M475.9 559.9h0M475.7 560.5h0M475.6 560.8h0M477.0 558.7h0M477.0 559.1h0M476.8 559.8h0M476.8 560.0h0M476.9 560.6h0M477.0 561.5h0M476.8 561.9h0M476.9 562.2h0M478.0 559.1h0M477.8 559.4h0M478.0 560.0h0M477.8 560.4h0M478.0 561.1h0M477.7 561.4h0M477.9 561.9h0M478.8 560.1h0M478.8 560.5h0M478.8 561.0h0M478.8 561.8h0M479.0 562.5h0M479.0 563.1h0M479.1 563.5h0M479.8 560.6h0M479.9 561.2h0M480.1 562.0h0M479.9 562.3h0M480.0 563.0h0M480.0 563.7h0M479.9 564.0h0M480.9 561.4h0M481.0 562.4h0M480.8 562.6h0M481.2 563.1h0M481.0 563.8h0M481.0 564.0h0M481.0 564.9h0M482.1 562.7h0M481.9 563.2h0M481.9 563.9h0M482.2 564.4h0M481.9 565.1h0M482.2 565.2h0M483.1 563.3h0M483.1 563.8h0M482.9 564.7h0M483.1 565.1h0M484.3 564.4h0M484.1 564.9h0M484.1 565.8h0M484.3 566.1h0M485.1 564.9h0M485.0 565.6h0M485.0 565.8h0M486.0 565.6h0M486.3 566.2h0M487.1 565.3h0M487.2 565.9h0M488.4 565.3h0M488.3 565.8h0M489.2 565.8h0M489.2 566.1h0M490.5 565.3h0M490.4 566.0h0M491.5 563.2h0M491.5 563.7h0M491.4 564.4h0M491.4 565.1h0M491.5 565.7h0M491.3 565.9h0M492.4 561.6h0M492.5 562.0h0M492.6 563.0h0M492.4 563.1h0M492.3 563.9h0M492.6 564.3h0M492.3 565.2h0M492.5 565.7h0M493.5 561.6h0M493.6 561.9h0M493.5 562.9h0M493.5 563.5h0M493.6 563.9h0M493.3 564.4h0M493.7 565.1h0M493.3 565.3h0M494.6 561.8h0M494.7 562.4h0M494.5 562.9h0M494.6 563.3h0M494.6 564.0h0M494.4 564.3h0M494.4 564.7h0M494.6 565.4h0M495.5 562.2h0M495.6 562.8h0M495.4 563.2h0M495.5 563.6h0M495.5 564.4h0M495.7 564.6h0M495.6 565.0h0M495.6 565.6h0M496.5 562.4h0M496.4 562.7h0M496.8 563.3h0M496.4 563.8h0M496.8 564.4h0M496.5 564.8h0M496.7 565.4h0M496.4 566.0h0M497.7 563.0h0M497.5 563.6h0M497.7 564.0h0M497.5 564.4h0M497.8 565.2h0M497.5 565.4h0M497.6 566.2h0M498.9 563.9h0M498.8 564.1h0M498.7 565.0h0M498.6 565.4h0M498.8 566.0h0M499.5 564.1h0M499.9 564.6h0M499.6 565.6h0M499.5 566.0h0M500.9 564.6h0M500.7 565.0h0M500.7 565.6h0M501.8 564.8h0M501.9 565.2h0M501.9 565.8h0M502.8 564.3h0M502.9 565.1h0M502.8 565.4h0M503.9 563.3h0M504.0 563.8h0M503.9 564.7h0M503.9 564.8h0M504.9 563.1h0M505.1 563.4h0M505.0 563.8h0M504.8 564.6h0M505.0 565.1h0M505.0 565.5h0M505.8 562.0h0M505.9 562.7h0M505.8 563.0h0M506.1 563.4h0M505.9 563.9h0M505.9 564.8h0M506.0 565.2h0M507.1 560.7h0M507.1 561.3h0M507.2 561.8h0M507.1 562.2h0M506.8 563.0h0M507.2 563.5h0M507.1 564.3h0M506.8 564.9h0M508.1 560.4h0M508.0 560.8h0M507.9 561.2h0M508.0 561.8h0M508.1 562.3h0M507.9 563.0h0M508.0 563.6h0M508.2 564.1h0M509.1 561.0h0M508.9 561.5h0M509.2 562.1h0M509.2 562.4h0M509.2 562.8h0M509.2 563.4h0M509.2 564.2h0M508.9 564.7h0M510.0 559.8h0M509.9 560.3h0M510.3 561.3h0M510.1 561.5h0M510.2 562.0h0M510.0 562.7h0M510.3 563.4h0M510.1 563.5h0M511.1 560.1h0M511.0 560.4h0M511.2 560.8h0M511.1 561.5h0M511.3 562.2h0M511.1 562.7h0M511.0 563.4h0M511.2 563.8h0M511.3 564.1h0M512.2 560.9h0M512.1 561.4h0M512.2 562.1h0M512.4 562.4h0M512.3 563.2h0M512.2 563.7h0M512.1 564.3h0M513.2 560.9h0M513.3 561.3h0M513.4 562.1h0M513.2 562.6h0M513.3 563.2h0M513.1 563.6h0M513.2 564.3h0M513.1 564.5h0M514.1 561.3h0M514.1 562.0h0M514.1 562.7h0M514.4 562.9h0M514.4 563.6h0M514.2 564.1h0M514.4 564.7h0M514.4 565.2h0M515.4 561.3h0M515.4 561.8h0M515.4 562.4h0M515.2 562.7h0M515.4 563.6h0M515.5 563.7h0M515.4 564.5h0M515.3 565.1h0M515.4 565.3h0M516.3 560.7h0M516.3 561.2h0M516.3 562.2h0M516.5 562.6h0M516.2 563.1h0M516.2 563.5h0M516.3 563.9h0M516.4 564.4h0M516.3 565.1h0M517.3 561.1h0M517.3 561.8h0M517.2 562.4h0M517.5 562.9h0M517.5 563.7h0M517.4 564.1h0M517.5 564.7h0M517.4 565.0h0M517.4 565.7h0M518.5 561.0h0M518.3 561.4h0M518.4 561.8h0M518.6 562.3h0M518.5 562.9h0M518.3 563.5h0M518.5 563.9h0M518.3 564.7h0M519.5 560.2h0M519.5 561.1h0M519.4 561.4h0M519.5 562.1h0M519.5 562.5h0M519.5 563.1h0M519.4 563.9h0M519.5 564.3h0M520.4 559.6h0M520.6 560.0h0M520.4 560.4h0M520.7 561.4h0M520.4 561.7h0M520.7 562.3h0M520.6 562.8h0M520.6 563.2h0M521.7 560.5h0M521.6 560.6h0M521.5 561.6h0M521.7 562.2h0M521.6 562.3h0M521.5 563.1h0M521.7 563.7h0M521.7 564.3h0M522.6 559.9h0M522.5 560.5h0M522.5 560.7h0M522.7 561.2h0M522.6 562.2h0M522.7 562.3h0M522.5 563.2h0M522.6 563.4h0M523.5 559.8h0M523.6 560.0h0M523.8 560.6h0M523.5 561.0h0M523.6 561.5h0M523.6 562.4h0M523.6 562.9h0M523.6 563.3h0M524.6 560.5h0M524.7 560.7h0M524.8 561.2h0M524.8 562.0h0M524.7 562.6h0M524.5 563.4h0M525.9 560.4h0M525.8 560.9h0M525.6 561.5h0M525.6 562.0h0M525.9 562.4h0M525.8 563.0h0M526.7 560.0h0M526.9 560.9h0M526.9 561.0h0M526.7 561.8h0M526.7 562.3h0M526.8 562.9h0M527.8 560.3h0M527.6 561.0h0M527.6 561.5h0M527.9 561.9h0M527.7 562.8h0M528.0 563.1h0M528.8 560.4h0M528.8 561.6h0M528.8 561.8h0M528.8 562.6h0M528.9 563.1h0M530.0 560.9h0M529.8 561.5h0M529.9 562.3h0M529.9 562.6h0M529.9 563.5h0M531.0 561.5h0M530.9 562.0h0M530.8 562.6h0M531.1 563.4h0M532.0 561.4h0M532.0 562.3h0M531.8 562.6h0M531.9 563.4h0M532.9 561.0h0M533.0 561.7h0M532.9 562.5h0M533.1 562.6h0M533.0 563.3h0M533.1 563.8h0M534.0 561.0h0M534.0 562.0h0M533.9 562.3h0M534.1 562.7h0M534.1 563.6h0M534.0 564.2h0M535.0 560.7h0M535.0 561.3h0M535.1 561.8h0M535.1 562.0h0M534.9 562.7h0M535.1 563.3h0M535.0 563.9h0M535.0 564.4h0M536.3 560.2h0M536.2 560.7h0M536.0 561.2h0M536.0 561.6h0M536.1 562.3h0M536.3 562.5h0M536.0 563.2h0M536.2 563.9h0M536.3 564.3h0M537.1 560.2h0M537.0 560.7h0M537.2 561.3h0M537.1 561.8h0M537.3 562.2h0M537.0 562.5h0M537.3 563.3h0M537.2 563.6h0M538.2 559.6h0M538.1 560.3h0M538.3 560.9h0M538.2 561.4h0M538.2 561.9h0M538.3 562.4h0M538.2 563.4h0M538.2 563.7h0M539.1 560.0h0M539.4 560.3h0M539.1 560.9h0M539.4 561.8h0M539.3 562.1h0M539.4 562.8h0M539.3 563.1h0M540.2 560.0h0M540.4 560.8h0M540.4 561.2h0M540.2 562.0h0M540.4 562.4h0M540.1 562.6h0M540.3 563.7h0M541.2 559.6h0M541.1 560.4h0M541.2 561.1h0M541.2 561.4h0M541.4 561.9h0M541.3 562.3h0M541.2 563.2h0M541.2 563.4h0M542.5 560.4h0M542.2 560.8h0M542.3 561.5h0M542.2 562.1h0M542.4 562.8h0M542.4 563.0h0M542.5 563.4h0M542.3 564.3h0M542.2 564.6h0M543.4 561.0h0M543.5 561.7h0M543.3 562.0h0M543.3 562.7h0M543.4 563.4h0M543.2 563.8h0M543.6 564.5h0M543.3 565.0h0M543.6 565.5h0M544.5 561.5h0M544.6 561.9h0M544.5 562.6h0M544.5 563.0h0M544.3 563.5h0M544.5 563.8h0M544.4 564.5h0M544.4 565.3h0M544.5 565.7h0M544.3 566.3h0M545.6 561.9h0M545.3 562.4h0M545.5 563.0h0M545.5 563.8h0M545.4 564.4h0M545.5 564.7h0M545.5 565.3h0M545.3 565.8h0M545.6 566.5h0M546.4 562.6h0M546.4 563.4h0M546.6 564.0h0M546.4 564.5h0M546.6 565.1h0M546.5 565.4h0M546.7 565.9h0M546.7 566.7h0M546.5 566.8h0M547.7 563.2h0M547.7 563.9h0M547.6 564.5h0M547.5 565.0h0M547.5 565.4h0M547.5 566.2h0M547.5 566.8h0M547.6 567.0h0M548.6 564.5h0M548.5 565.1h0M548.7 565.6h0M548.6 566.0h0M548.4 566.3h0M548.7 566.8h0M548.6 567.6h0M549.5 563.3h0M549.6 563.6h0M549.6 564.2h0M549.5 564.7h0M549.6 565.4h0M549.6 565.6h0M549.7 566.5h0M549.5 566.9h0M550.5 562.3h0M550.7 562.8h0M550.6 563.3h0M550.8 564.2h0M550.7 564.6h0M550.7 565.3h0M550.5 565.4h0M550.5 566.0h0M550.7 566.7h0M551.7 561.6h0M551.6 562.2h0M551.9 562.5h0M551.6 563.0h0M551.7 563.7h0M551.7 564.3h0M551.8 564.7h0M551.6 565.5h0M551.6 565.8h0M552.7 561.4h0M552.7 562.3h0M552.8 562.6h0M552.6 563.5h0M552.8 563.8h0M552.6 564.1h0M552.7 564.8h0M552.9 565.6h0M552.7 566.1h0M553.7 561.4h0M553.7 561.8h0M553.9 562.4h0M553.9 563.1h0M553.8 563.9h0M553.9 564.0h0M553.8 564.6h0M553.7 565.5h0M553.8 565.7h0M554.7 560.8h0M554.9 561.3h0M554.7 561.9h0M554.9 562.1h0M554.9 563.1h0M554.9 563.8h0M555.0 564.0h0M554.7 564.5h0M554.7 565.1h0M556.0 561.0h0M555.8 561.9h0M555.7 562.3h0M555.8 563.0h0M555.8 563.3h0M556.0 564.0h0M555.9 564.3h0M555.9 564.8h0M556.0 565.5h0M557.1 559.9h0M557.1 560.6h0M557.0 561.1h0M556.9 561.8h0M557.1 562.0h0M556.8 562.9h0M557.0 563.4h0M556.8 563.5h0M557.0 564.0h0M557.8 560.3h0M558.0 560.9h0M558.1 561.6h0M558.0 562.2h0M558.1 562.4h0M557.8 563.2h0M558.1 563.3h0M558.1 563.9h0M557.9 564.8h0M557.8 565.1h0M559.0 560.2h0M559.0 560.6h0M558.9 561.5h0M559.2 561.8h0M559.1 562.1h0M559.0 562.8h0M558.9 563.5h0M559.0 563.7h0M559.0 564.7h0M559.0 565.2h0M560.0 559.9h0M559.9 560.2h0M560.0 560.6h0M560.2 561.6h0M560.0 561.9h0M560.2 562.4h0M560.0 562.9h0M560.1 563.5h0M560.0 564.5h0M561.1 559.4h0M560.9 560.1h0M561.0 560.4h0M561.1 561.2h0M561.0 561.5h0M561.0 562.1h0M561.1 562.4h0M561.0 563.5h0M562.2 558.8h0M562.2 559.2h0M562.2 559.9h0M562.2 560.5h0M562.2 561.1h0M562.0 561.2h0M562.0 562.2h0M562.2 562.7h0M563.3 557.7h0M563.3 558.2h0M563.3 558.9h0M563.1 559.4h0M563.3 559.8h0M563.3 560.7h0M563.3 561.2h0M563.3 561.6h0M564.1 557.7h0M564.2 558.2h0M564.2 558.9h0M564.1 559.2h0M564.3 559.9h0M564.1 560.2h0M564.1 561.0h0M564.2 561.5h0M564.1 561.7h0M565.3 558.4h0M565.4 559.1h0M565.2 559.7h0M565.3 560.4h0M565.2 560.9h0M565.3 561.5h0M565.2 561.7h0M566.3 558.9h0M566.2 559.5h0M566.4 560.0h0M566.2 560.6h0M566.2 561.0h0M566.3 561.6h0M566.2 562.2h0M567.3 559.2h0M567.2 560.0h0M567.4 560.4h0M567.2 561.1h0M567.4 561.4h0M567.3 562.2h0M567.3 562.9h0M568.3 559.1h0M568.5 560.1h0M568.2 560.4h0M568.3 560.9h0M568.3 561.6h0M568.5 562.0h0M568.3 562.7h0M568.2 563.1h0M569.6 559.6h0M569.4 560.4h0M569.5 560.7h0M569.5 561.5h0M569.5 561.8h0M569.5 562.2h0M569.2 563.1h0M570.3 560.0h0M570.4 560.5h0M570.4 561.0h0M570.5 561.5h0M570.3 561.9h0M570.5 562.8h0M570.6 563.0h0M571.3 559.6h0M571.5 560.2h0M571.3 561.2h0M571.6 561.4h0M571.5 562.1h0M571.6 562.6h0M572.3 560.5h0M572.3 560.8h0M572.5 561.7h0M572.6 562.0h0M572.4 562.9h0M573.5 560.8h0M573.6 561.2h0M573.5 561.5h0M573.5 562.2h0M573.4 562.6h0M573.7 563.6h0M574.7 561.2h0M574.5 561.8h0M574.7 562.0h0M574.7 563.0h0M574.5 563.1h0M574.4 563.9h0M575.7 560.8h0M575.5 561.2h0M575.7 561.8h0M575.5 562.7h0M575.6 562.9h0M575.6 563.5h0M576.6 561.4h0M576.6 561.9h0M576.5 562.2h0M576.6 562.7h0M576.7 563.3h0M576.6 563.8h0M576.7 564.7h0M577.7 561.1h0M577.7 561.5h0M577.6 562.2h0M577.9 562.9h0M577.6 563.4h0M577.7 563.7h0M577.7 564.4h0M577.7 564.7h0M578.6 561.3h0M578.6 561.9h0M578.8 562.5h0M578.6 563.3h0M578.8 563.8h0M578.8 564.5h0M578.6 565.1h0M578.8 565.3h0M579.7 561.0h0M579.7 561.5h0M579.8 562.0h0M579.7 562.5h0M579.7 563.3h0M580.0 563.7h0M579.8 564.1h0M579.8 564.8h0M580.8 561.4h0M580.7 561.8h0M580.9 562.5h0M580.8 562.9h0M581.0 563.3h0M580.9 563.7h0M581.9 560.7h0M581.9 561.3h0M581.9 561.8h0M581.9 562.3h0M582.0 563.2h0M582.0 563.5h0M582.9 561.0h0M582.8 561.8h0M583.0 562.1h0M582.7 562.8h0M583.1 563.3h0M584.1 560.4h0M583.9 560.7h0M584.1 561.3h0M584.0 562.2h0M583.9 562.6h0M583.8 563.0h0M584.9 559.8h0M584.9 560.7h0M584.9 561.1h0M585.1 561.9h0M584.8 562.5h0M585.0 563.0h0M586.1 559.8h0M586.1 560.7h0M586.2 560.9h0M586.1 561.6h0M585.9 562.3h0M585.9 562.5h0M587.0 559.4h0M587.2 560.3h0M586.9 560.6h0M587.2 561.3h0M587.0 562.2h0M586.9 562.6h0M586.9 563.3h0M588.2 559.5h0M588.2 560.3h0M588.0 560.8h0M588.1 561.8h0M588.0 561.8h0M588.2 562.5h0M588.0 563.5h0M589.1 559.4h0M589.0 560.3h0M589.1 560.6h0M589.3 560.9h0M589.1 561.8h0M589.0 562.2h0M589.2 562.8h0M589.3 563.5h0M589.0 564.0h0M589.0 564.6h0M590.1 559.8h0M590.1 560.2h0M590.2 560.8h0M590.3 561.5h0M590.4 561.8h0M590.2 562.5h0M590.0 562.8h0M590.2 563.5h0M590.1 564.0h0M590.1 564.6h0M591.4 560.0h0M591.1 560.4h0M591.4 561.1h0M591.4 561.7h0M591.3 561.7h0M591.2 562.8h0M591.3 563.1h0M591.4 563.5h0M591.1 563.9h0M591.3 564.8h0M591.4 565.2h0M592.3 560.2h0M592.2 560.7h0M592.4 561.1h0M592.3 561.5h0M592.1 562.0h0M592.4 562.9h0M592.1 563.3h0M592.1 563.9h0M592.2 564.5h0M592.4 564.5h0M592.4 565.0h0M593.2 560.3h0M593.3 560.3h0M593.4 561.2h0M593.3 561.7h0M593.3 562.0h0M593.5 562.7h0M593.4 563.3h0M593.4 563.9h0M593.2 564.4h0M593.2 564.7h0M593.2 565.4h0M594.3 560.2h0M594.4 560.5h0M594.5 561.3h0M594.5 561.5h0M594.5 562.2h0M594.4 562.6h0M594.5 563.3h0M594.4 563.9h0M594.4 564.1h0M594.5 564.6h0M594.5 565.6h0M595.4 559.7h0M595.3 560.0h0M595.4 560.7h0M595.4 561.4h0M595.4 561.8h0M595.3 562.1h0M595.4 563.0h0M595.5 563.2h0M595.5 564.1h0M595.3 564.6h0M596.5 560.4h0M596.6 560.7h0M596.4 561.0h0M596.5 561.7h0M596.5 562.4h0M596.5 562.9h0M596.5 563.3h0M596.4 564.0h0M596.3 564.6h0M657.2 564.3h0M657.2 564.9h0M656.9 565.6h0M656.9 566.1h0M657.1 566.5h0M658.2 565.1h0M658.1 565.3h0M658.1 566.1h0M658.2 567.0h0M658.0 567.3h0M659.2 565.1h0M659.2 565.4h0M659.3 566.0h0M659.1 566.6h0M659.0 567.6h0M659.1 567.9h0M660.3 564.7h0M660.3 565.2h0M660.0 566.0h0M660.2 566.2h0M660.4 567.0h0M660.2 567.4h0M661.2 565.1h0M661.1 565.5h0M661.1 565.9h0M661.1 566.9h0M661.1 567.2h0M661.4 567.7h0M661.0 568.3h0M662.4 565.5h0M662.3 565.7h0M662.4 566.7h0M662.4 567.1h0M662.4 567.8h0M662.4 568.1h0M663.5 564.9h0M663.4 565.6h0M663.1 566.0h0M663.4 566.8h0M663.2 567.6h0M663.5 568.1h0M663.3 568.4h0M664.4 565.5h0M664.2 566.1h0M664.3 566.4h0M664.5 567.0h0M664.5 567.5h0M664.2 568.1h0M664.4 568.6h0M665.3 565.1h0M665.4 565.4h0M665.5 566.3h0M665.4 566.4h0M665.5 567.1h0M665.3 567.9h0M666.4 564.7h0M666.4 565.3h0M666.3 565.9h0M666.5 566.3h0M666.5 566.7h0M666.6 567.7h0M667.4 565.4h0M667.4 565.8h0M667.6 567.1h0M668.6 565.5h0M668.7 566.0h0M669.6 564.4h0M669.7 565.3h0M670.5 565.2h0M670.5 566.1h0M671.8 565.3h0M671.5 565.9h0M672.8 565.1h0M672.7 565.5h0M673.5 565.0h0M673.9 566.0h0M674.9 565.3h0M674.7 566.0h0M675.8 565.3h0M675.8 565.4h0M676.9 565.1h0M677.0 565.7h0M676.7 565.9h0M678.0 565.0h0M677.8 565.3h0M677.9 565.7h0M678.9 564.7h0M678.9 565.1h0M679.1 565.8h0M679.0 565.9h0M679.9 563.6h0M679.9 564.1h0M679.9 564.8h0M680.0 565.4h0M679.9 566.0h0M681.1 563.9h0M681.1 564.4h0M680.8 565.1h0M681.1 565.9h0M681.1 566.2h0M682.1 563.7h0M682.1 564.3h0M682.2 564.8h0M681.9 565.4h0M682.2 566.0h0M683.2 563.4h0M683.2 564.1h0M682.9 564.7h0M683.1 565.3h0M683.0 566.2h0M684.1 562.8h0M684.3 563.3h0M684.2 564.0h0M684.2 564.8h0M685.3 563.6h0M685.2 563.7h0M685.1 564.3h0M686.2 563.4h0M686.0 563.7h0M687.3 563.0h0M687.2 563.4h0M688.3 563.5h0M688.2 563.9h0M689.2 563.4h0M689.5 563.6h0M690.2 564.0h0M690.3 564.1h0M691.2 564.0h0M691.5 564.2h0M692.5 564.9h0M692.3 565.0h0M693.5 565.9h0M693.3 566.1h0M694.5 566.0h0M694.6 566.2h0M695.7 566.3h0M695.6 566.4h0M696.5 566.7h0M696.6 566.8h0M697.7 566.2h0M697.6 566.3h0M698.6 566.1h0M698.7 566.3h0M699.8 566.5h0M699.9 566.5h0"/>
<polyline points="596.6,560.2 598.8,560.1 600.7,560.0 603.4,559.7 606.2,559.4 608.1,559.2 610.0,558.9 611.5,558.3 612.8,557.6 613.9,557.0 614.8,556.3 615.4,555.8 615.9,555.2 616.7,554.2 617.4,553.1 618.0,552.1 618.5,551.0 618.9,550.4 619.7,548.6 620.4,546.6 621.1,544.4 621.9,542.0 622.4,540.0 622.8,538.7 623.4,537.0 623.9,535.7 624.5,534.7 625.1,534.0 625.4,533.8 625.7,533.7 626.1,533.8 626.4,534.1 627.0,535.2 627.7,536.9 628.4,539.1 629.1,541.3 629.8,543.6 630.6,546.2 631.1,547.7 631.6,548.9 632.3,550.6 633.1,552.1 633.8,553.3 634.6,554.3 635.3,555.2 636.0,555.9 637.0,556.7 637.9,557.4 639.0,558.0 640.1,558.4 641.3,558.8 642.6,559.2 643.9,559.4 645.4,559.6 647.2,559.8 649.1,560.0 650.9,560.1 652.8,560.1 654.8,560.2" fill="none" stroke="#000" stroke-width="2.3" stroke-dasharray="7.5 3.2"/>
</g>
<g stroke="#000" stroke-width="1.2" fill="none">
<rect x="80.5" y="40.5" width="312.0" height="343.0"/>
<rect x="408.5" y="40.5" width="312.0" height="343.0"/>
<rect x="80.5" y="417.5" width="312.0" height="343.0"/>
<rect x="408.5" y="417.5" width="312.0" height="343.0"/>
</g>
<g opacity="0.999" stroke="#000" stroke-width="0.3">
<text x="97.2" y="398.8" font-size="14.3" text-anchor="start" textLength="34.5" lengthAdjust="spacingAndGlyphs">9417</text>
<text x="142.2" y="398.8" font-size="14.3" text-anchor="start" textLength="34.5" lengthAdjust="spacingAndGlyphs">9425</text>
<text x="187.2" y="398.8" font-size="14.3" text-anchor="start" textLength="34.5" lengthAdjust="spacingAndGlyphs">9433</text>
<text x="231.2" y="398.8" font-size="14.3" text-anchor="start" textLength="34.5" lengthAdjust="spacingAndGlyphs">9441</text>
<text x="275.2" y="398.8" font-size="14.3" text-anchor="start" textLength="34.5" lengthAdjust="spacingAndGlyphs">9449</text>
<text x="320.2" y="398.8" font-size="14.3" text-anchor="start" textLength="34.5" lengthAdjust="spacingAndGlyphs">9457</text>
<text x="365.2" y="398.8" font-size="14.3" text-anchor="start" textLength="34.5" lengthAdjust="spacingAndGlyphs">9465</text>
<text x="31.6" y="96.5" font-size="14.3" text-anchor="start" textLength="43.1" lengthAdjust="spacingAndGlyphs">20000</text>
<text x="31.6" y="169.0" font-size="14.3" text-anchor="start" textLength="43.1" lengthAdjust="spacingAndGlyphs">10000</text>
<text x="66.6" y="241.5" font-size="14.3" text-anchor="start" textLength="8.9" lengthAdjust="spacingAndGlyphs">0</text>
<text x="19.2" y="314.0" font-size="14.3" text-anchor="start" textLength="55.5" lengthAdjust="spacingAndGlyphs">−10000</text>
<text x="19.2" y="386.5" font-size="14.3" text-anchor="start" textLength="55.5" lengthAdjust="spacingAndGlyphs">−20000</text>
<text x="425.2" y="398.8" font-size="14.3" text-anchor="start" textLength="34.5" lengthAdjust="spacingAndGlyphs">9417</text>
<text x="470.2" y="398.8" font-size="14.3" text-anchor="start" textLength="34.5" lengthAdjust="spacingAndGlyphs">9425</text>
<text x="514.2" y="398.8" font-size="14.3" text-anchor="start" textLength="34.5" lengthAdjust="spacingAndGlyphs">9433</text>
<text x="559.2" y="398.8" font-size="14.3" text-anchor="start" textLength="34.5" lengthAdjust="spacingAndGlyphs">9441</text>
<text x="603.2" y="398.8" font-size="14.3" text-anchor="start" textLength="34.5" lengthAdjust="spacingAndGlyphs">9449</text>
<text x="648.2" y="398.8" font-size="14.3" text-anchor="start" textLength="34.5" lengthAdjust="spacingAndGlyphs">9457</text>
<text x="692.2" y="398.8" font-size="14.3" text-anchor="start" textLength="34.5" lengthAdjust="spacingAndGlyphs">9465</text>
<text x="725.0" y="114.3" font-size="14.3" text-anchor="start" textLength="43.1" lengthAdjust="spacingAndGlyphs">40000</text>
<text x="725.0" y="186.7" font-size="14.3" text-anchor="start" textLength="43.1" lengthAdjust="spacingAndGlyphs">30000</text>
<text x="725.0" y="259.0" font-size="14.3" text-anchor="start" textLength="43.1" lengthAdjust="spacingAndGlyphs">20000</text>
<text x="725.0" y="331.4" font-size="14.3" text-anchor="start" textLength="43.1" lengthAdjust="spacingAndGlyphs">10000</text>
<text x="84.0" y="775.8" font-size="14.3" text-anchor="start" textLength="34.5" lengthAdjust="spacingAndGlyphs">9250</text>
<text x="136.0" y="775.8" font-size="14.3" text-anchor="start" textLength="34.5" lengthAdjust="spacingAndGlyphs">9300</text>
<text x="188.0" y="775.8" font-size="14.3" text-anchor="start" textLength="34.5" lengthAdjust="spacingAndGlyphs">9350</text>
<text x="240.0" y="775.8" font-size="14.3" text-anchor="start" textLength="34.5" lengthAdjust="spacingAndGlyphs">9400</text>
<text x="292.0" y="775.8" font-size="14.3" text-anchor="start" textLength="34.5" lengthAdjust="spacingAndGlyphs">9450</text>
<text x="344.0" y="775.8" font-size="14.3" text-anchor="start" textLength="34.5" lengthAdjust="spacingAndGlyphs">9500</text>
<text x="31.6" y="459.0" font-size="14.3" text-anchor="start" textLength="43.1" lengthAdjust="spacingAndGlyphs">40000</text>
<text x="31.6" y="512.1" font-size="14.3" text-anchor="start" textLength="43.1" lengthAdjust="spacingAndGlyphs">30000</text>
<text x="31.6" y="565.2" font-size="14.3" text-anchor="start" textLength="43.1" lengthAdjust="spacingAndGlyphs">20000</text>
<text x="31.6" y="618.3" font-size="14.3" text-anchor="start" textLength="43.1" lengthAdjust="spacingAndGlyphs">10000</text>
<text x="66.6" y="671.4" font-size="14.3" text-anchor="start" textLength="8.9" lengthAdjust="spacingAndGlyphs">0</text>
<text x="19.2" y="724.5" font-size="14.3" text-anchor="start" textLength="55.5" lengthAdjust="spacingAndGlyphs">−10000</text>
<text x="412.0" y="775.8" font-size="14.3" text-anchor="start" textLength="34.5" lengthAdjust="spacingAndGlyphs">9250</text>
<text x="464.0" y="775.8" font-size="14.3" text-anchor="start" textLength="34.5" lengthAdjust="spacingAndGlyphs">9300</text>
<text x="516.0" y="775.8" font-size="14.3" text-anchor="start" textLength="34.5" lengthAdjust="spacingAndGlyphs">9350</text>
<text x="568.0" y="775.8" font-size="14.3" text-anchor="start" textLength="34.5" lengthAdjust="spacingAndGlyphs">9400</text>
<text x="620.0" y="775.8" font-size="14.3" text-anchor="start" textLength="34.5" lengthAdjust="spacingAndGlyphs">9450</text>
<text x="672.0" y="775.8" font-size="14.3" text-anchor="start" textLength="34.5" lengthAdjust="spacingAndGlyphs">9500</text>
<text x="725.0" y="461.5" font-size="14.3" text-anchor="start" textLength="51.6" lengthAdjust="spacingAndGlyphs">100000</text>
<text x="725.0" y="514.5" font-size="14.3" text-anchor="start" textLength="43.1" lengthAdjust="spacingAndGlyphs">50000</text>
<text x="725.8" y="567.5" font-size="14.3" text-anchor="start" textLength="8.9" lengthAdjust="spacingAndGlyphs">0</text>
<text x="725.0" y="620.5" font-size="14.3" text-anchor="start" textLength="55.5" lengthAdjust="spacingAndGlyphs">−50000</text>
<text x="725.0" y="673.5" font-size="14.3" text-anchor="start" textLength="64.0" lengthAdjust="spacingAndGlyphs">−100000</text>
<text x="725.0" y="726.5" font-size="14.3" text-anchor="start" textLength="64.0" lengthAdjust="spacingAndGlyphs">−150000</text>
<text x="81.9" y="31.7" font-size="15.6" text-anchor="start" textLength="165.0" lengthAdjust="spacingAndGlyphs">BLG14M0107.000312</text>
<text x="252.65" y="31.7" font-size="15.6" text-anchor="start" textLength="59.2" lengthAdjust="spacingAndGlyphs">(773.12,</text>
<text x="321.4" y="31.7" font-size="15.6" text-anchor="start" textLength="68.2" lengthAdjust="spacingAndGlyphs">7184.38)</text>
<text x="435.15" y="31.7" font-size="15.6" text-anchor="start" textLength="9.1" lengthAdjust="spacingAndGlyphs">3</text>
<text x="449.4" y="31.7" font-size="15.6" text-anchor="start" textLength="38.7" lengthAdjust="spacingAndGlyphs">9473</text>
<text x="493.3" y="31.7" font-size="15.6" text-anchor="start" textLength="52.9" lengthAdjust="spacingAndGlyphs">16.023</text>
<text x="551.4" y="31.7" font-size="15.6" text-anchor="start" textLength="49.2" lengthAdjust="spacingAndGlyphs">-8.000</text>
<text x="605.8" y="31.7" font-size="15.6" text-anchor="start" textLength="14.7" lengthAdjust="spacingAndGlyphs">-8</text>
<text x="630.4" y="31.7" font-size="15.6" text-anchor="start" textLength="33.9" lengthAdjust="spacingAndGlyphs">5.62</text>
<text x="684.1" y="31.7" font-size="15.6" text-anchor="start" textLength="9.1" lengthAdjust="spacingAndGlyphs">0</text>
<text x="10" y="233.8" font-size="14.7" text-anchor="start" textLength="41.8" lengthAdjust="spacingAndGlyphs" transform="rotate(-90 10 233.8)">Δ Flux</text>
<text x="10" y="610.5" font-size="14.7" text-anchor="start" textLength="41.8" lengthAdjust="spacingAndGlyphs" transform="rotate(-90 10 610.5)">Δ Flux</text>
<text x="190.9" y="794.8" font-size="14.2" text-anchor="start" textLength="90.0" lengthAdjust="spacingAndGlyphs">HJD-2450000</text>
</g>
</svg></body></html>
